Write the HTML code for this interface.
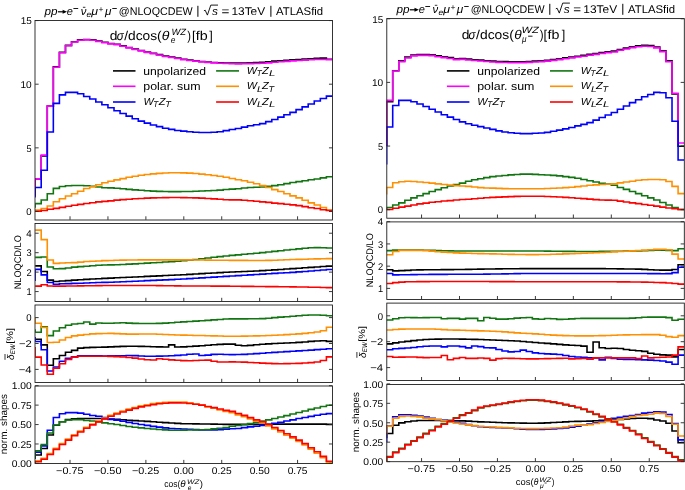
<!DOCTYPE html>
<html><head><meta charset="utf-8"><style>
html,body{margin:0;padding:0;background:#fff;width:685px;height:490px;overflow:hidden}
svg{display:block;font-family:"Liberation Sans", sans-serif;will-change:transform;text-rendering:geometricPrecision}
text{fill:#000}
</style></head><body>
<svg width="685" height="490" viewBox="0 0 685 490">
<rect width="685" height="490" fill="#fff"/>
<clipPath id="cLmain"><rect x="35.13" y="20.5" width="297.33" height="199.3"/></clipPath>
<clipPath id="cLratio"><rect x="35.13" y="223.5" width="297.33" height="77.8"/></clipPath>
<clipPath id="cLdew"><rect x="35.13" y="304.6" width="297.33" height="77.7"/></clipPath>
<clipPath id="cLnorm"><rect x="35.13" y="385.7" width="297.33" height="77.7"/></clipPath>
<g clip-path="url(#cLmain)" fill="none" stroke-width="1.6" stroke-linejoin="miter">
<path stroke="#000000" d="M35.13 196.22 L35.13 178.91 L41.2 178.91 L41.2 155.87 L47.27 155.87 L47.27 106.1 L53.34 106.1 L53.34 66.89 L59.41 66.89 L59.41 52.38 L65.47 52.38 L65.47 45.37 L71.54 45.37 L71.54 41.68 L77.61 41.68 L77.61 39.9 L83.68 39.9 L83.68 39.52 L89.75 39.52 L89.75 39.9 L95.81 39.9 L95.81 41.05 L101.88 41.05 L101.88 42.32 L107.95 42.32 L107.95 43.46 L114.02 43.46 L114.02 44.23 L120.09 44.23 L120.09 45.88 L126.15 45.88 L126.15 47.54 L132.22 47.54 L132.22 49.07 L138.29 49.07 L138.29 50.47 L144.36 50.47 L144.36 51.99 L150.43 51.99 L150.43 53.27 L156.49 53.27 L156.49 54.67 L162.56 54.67 L162.56 56.07 L168.63 56.07 L168.63 57.09 L174.7 57.09 L174.7 58.1 L180.77 58.1 L180.77 59.25 L186.83 59.25 L186.83 60.07 L192.9 60.07 L192.9 60.78 L198.97 60.78 L198.97 61.46 L205.04 61.46 L205.04 62.02 L211.11 62.02 L211.11 62.47 L217.17 62.47 L217.17 62.8 L223.24 62.8 L223.24 63.04 L229.31 63.04 L229.31 63.07 L235.38 63.07 L235.38 63.07 L241.45 63.07 L241.45 63 L247.51 63 L247.51 62.82 L253.58 62.82 L253.58 62.58 L259.65 62.58 L259.65 62.22 L265.72 62.22 L265.72 61.71 L271.79 61.71 L271.79 61.15 L277.85 61.15 L277.85 60.68 L283.92 60.68 L283.92 60.25 L289.99 60.25 L289.99 59.84 L296.06 59.84 L296.06 59.44 L302.13 59.44 L302.13 59.06 L308.19 59.06 L308.19 58.68 L314.26 58.68 L314.26 58.36 L320.33 58.36 L320.33 58.1 L326.4 58.1 L326.4 59.25 L332.47 59.25"/>
<path stroke="#ff00ff" d="M35.13 196.22 L35.13 178.91 L41.2 178.91 L41.2 155.11 L47.27 155.11 L47.27 106.1 L53.34 106.1 L53.34 67.27 L59.41 67.27 L59.41 52.76 L65.47 52.76 L65.47 45.76 L71.54 45.76 L71.54 42.06 L77.61 42.06 L77.61 40.28 L83.68 40.28 L83.68 39.9 L89.75 39.9 L89.75 40.28 L95.81 40.28 L95.81 41.43 L101.88 41.43 L101.88 42.7 L107.95 42.7 L107.95 43.85 L114.02 43.85 L114.02 44.61 L120.09 44.61 L120.09 46.26 L126.15 46.26 L126.15 47.92 L132.22 47.92 L132.22 49.45 L138.29 49.45 L138.29 50.85 L144.36 50.85 L144.36 52.38 L150.43 52.38 L150.43 53.65 L156.49 53.65 L156.49 55.05 L162.56 55.05 L162.56 56.45 L168.63 56.45 L168.63 57.47 L174.7 57.47 L174.7 58.49 L180.77 58.49 L180.77 59.63 L186.83 59.63 L186.83 60.46 L192.9 60.46 L192.9 61.16 L198.97 61.16 L198.97 61.84 L205.04 61.84 L205.04 62.4 L211.11 62.4 L211.11 62.84 L217.17 62.84 L217.17 63.19 L223.24 63.19 L223.24 63.48 L229.31 63.48 L229.31 63.69 L235.38 63.69 L235.38 63.83 L241.45 63.83 L241.45 63.75 L247.51 63.75 L247.51 63.58 L253.58 63.58 L253.58 63.5 L259.65 63.5 L259.65 63.32 L265.72 63.32 L265.72 62.86 L271.79 62.86 L271.79 62.3 L277.85 62.3 L277.85 61.82 L283.92 61.82 L283.92 61.33 L289.99 61.33 L289.99 60.86 L296.06 60.86 L296.06 60.44 L302.13 60.44 L302.13 60.1 L308.19 60.1 L308.19 59.77 L314.26 59.77 L314.26 59.54 L320.33 59.54 L320.33 59.51 L326.4 59.51 L326.4 59.63 L332.47 59.63"/>
<path stroke="#0000ff" d="M35.13 197.5 L35.13 187.44 L41.2 187.44 L41.2 170.25 L47.27 170.25 L47.27 131.94 L53.34 131.94 L53.34 103.42 L59.41 103.42 L59.41 94.89 L65.47 94.89 L65.47 92.35 L71.54 92.35 L71.54 92.35 L77.61 92.35 L77.61 93.75 L83.68 93.75 L83.68 96.55 L89.75 96.55 L89.75 98.97 L95.81 98.97 L95.81 102.02 L101.88 102.02 L101.88 104.7 L107.95 104.7 L107.95 107.75 L114.02 107.75 L114.02 110.68 L120.09 110.68 L120.09 113.48 L126.15 113.48 L126.15 116.15 L132.22 116.15 L132.22 118.7 L138.29 118.7 L138.29 121.12 L144.36 121.12 L144.36 123.15 L150.43 123.15 L150.43 124.94 L156.49 124.94 L156.49 126.59 L162.56 126.59 L162.56 128.25 L168.63 128.25 L168.63 129.39 L174.7 129.39 L174.7 130.54 L180.77 130.54 L180.77 131.17 L186.83 131.17 L186.83 131.81 L192.9 131.81 L192.9 132.32 L198.97 132.32 L198.97 132.57 L205.04 132.57 L205.04 132.56 L211.11 132.56 L211.11 132.25 L217.17 132.25 L217.17 131.68 L223.24 131.68 L223.24 130.62 L229.31 130.62 L229.31 129.57 L235.38 129.57 L235.38 128.51 L241.45 128.51 L241.45 127.16 L247.51 127.16 L247.51 125.73 L253.58 125.73 L253.58 124.75 L259.65 124.75 L259.65 123.66 L265.72 123.66 L265.72 121.63 L271.79 121.63 L271.79 119.46 L277.85 119.46 L277.85 117.17 L283.92 117.17 L283.92 114.75 L289.99 114.75 L289.99 112.33 L296.06 112.33 L296.06 109.66 L302.13 109.66 L302.13 106.86 L308.19 106.86 L308.19 103.93 L314.26 103.93 L314.26 101 L320.33 101 L320.33 98.46 L326.4 98.46 L326.4 96.17 L332.47 96.17"/>
<path stroke="#117511" d="M35.13 207.68 L35.13 203.61 L41.2 203.61 L41.2 200.04 L47.27 200.04 L47.27 193.68 L53.34 193.68 L53.34 188.33 L59.41 188.33 L59.41 186.55 L65.47 186.55 L65.47 185.79 L71.54 185.79 L71.54 185.53 L77.61 185.53 L77.61 185.53 L83.68 185.53 L83.68 185.79 L89.75 185.79 L89.75 186.42 L95.81 186.42 L95.81 186.93 L101.88 186.93 L101.88 187.69 L107.95 187.69 L107.95 187.87 L114.02 187.87 L114.02 188.27 L120.09 188.27 L120.09 188.77 L126.15 188.77 L126.15 189.36 L132.22 189.36 L132.22 189.85 L138.29 189.85 L138.29 190.26 L144.36 190.26 L144.36 190.71 L150.43 190.71 L150.43 191.12 L156.49 191.12 L156.49 191.37 L162.56 191.37 L162.56 191.53 L168.63 191.53 L168.63 191.62 L174.7 191.62 L174.7 191.64 L180.77 191.64 L180.77 191.56 L186.83 191.56 L186.83 191.43 L192.9 191.43 L192.9 191.26 L198.97 191.26 L198.97 191 L205.04 191 L205.04 190.7 L211.11 190.7 L211.11 190.44 L217.17 190.44 L217.17 190.09 L223.24 190.09 L223.24 189.56 L229.31 189.56 L229.31 189.11 L235.38 189.11 L235.38 188.7 L241.45 188.7 L241.45 188.07 L247.51 188.07 L247.51 187.45 L253.58 187.45 L253.58 187.18 L259.65 187.18 L259.65 186.93 L265.72 186.93 L265.72 186.42 L271.79 186.42 L271.79 185.66 L277.85 185.66 L277.85 184.77 L283.92 184.77 L283.92 183.62 L289.99 183.62 L289.99 182.48 L296.06 182.48 L296.06 181.58 L302.13 181.58 L302.13 180.69 L308.19 180.69 L308.19 179.8 L314.26 179.8 L314.26 179.04 L320.33 179.04 L320.33 177.89 L326.4 177.89 L326.4 176.75 L332.47 176.75"/>
<path stroke="#ff9000" d="M35.13 210.23 L35.13 210.1 L41.2 210.1 L41.2 208.57 L47.27 208.57 L47.27 206.03 L53.34 206.03 L53.34 201.7 L59.41 201.7 L59.41 198.77 L65.47 198.77 L65.47 195.97 L71.54 195.97 L71.54 193.68 L77.61 193.68 L77.61 191.26 L83.68 191.26 L83.68 188.46 L89.75 188.46 L89.75 186.68 L95.81 186.68 L95.81 184.77 L101.88 184.77 L101.88 182.73 L107.95 182.73 L107.95 181.2 L114.02 181.2 L114.02 179.87 L120.09 179.87 L120.09 178.58 L126.15 178.58 L126.15 177.27 L132.22 177.27 L132.22 176.19 L138.29 176.19 L138.29 175.3 L144.36 175.3 L144.36 174.51 L150.43 174.51 L150.43 173.85 L156.49 173.85 L156.49 173.37 L162.56 173.37 L162.56 173.02 L168.63 173.02 L168.63 172.75 L174.7 172.75 L174.7 172.69 L180.77 172.69 L180.77 172.88 L186.83 172.88 L186.83 173.16 L192.9 173.16 L192.9 173.56 L198.97 173.56 L198.97 174.08 L205.04 174.08 L205.04 174.72 L211.11 174.72 L211.11 175.46 L217.17 175.46 L217.17 176.32 L223.24 176.32 L223.24 177.31 L229.31 177.31 L229.31 178.44 L235.38 178.44 L235.38 179.68 L241.45 179.68 L241.45 180.82 L247.51 180.82 L247.51 182.22 L253.58 182.22 L253.58 183.75 L259.65 183.75 L259.65 185.66 L265.72 185.66 L265.72 187.44 L271.79 187.44 L271.79 189.6 L277.85 189.6 L277.85 191.51 L283.92 191.51 L283.92 193.68 L289.99 193.68 L289.99 195.84 L296.06 195.84 L296.06 197.88 L302.13 197.88 L302.13 200.3 L308.19 200.3 L308.19 202.84 L314.26 202.84 L314.26 205.01 L320.33 205.01 L320.33 207.55 L326.4 207.55 L326.4 210.1 L332.47 210.1"/>
<path stroke="#ff0000" d="M35.13 211.5 L35.13 211.25 L41.2 211.25 L41.2 210.48 L47.27 210.48 L47.27 209.21 L53.34 209.21 L53.34 208.39 L59.41 208.39 L59.41 207.36 L65.47 207.36 L65.47 206.31 L71.54 206.31 L71.54 205.29 L77.61 205.29 L77.61 204.36 L83.68 204.36 L83.68 203.51 L89.75 203.51 L89.75 202.68 L95.81 202.68 L95.81 201.89 L101.88 201.89 L101.88 201.34 L107.95 201.34 L107.95 200.83 L114.02 200.83 L114.02 200.17 L120.09 200.17 L120.09 199.62 L126.15 199.62 L126.15 199.2 L132.22 199.2 L132.22 198.82 L138.29 198.82 L138.29 198.47 L144.36 198.47 L144.36 198.15 L150.43 198.15 L150.43 197.89 L156.49 197.89 L156.49 197.73 L162.56 197.73 L162.56 197.61 L168.63 197.61 L168.63 197.52 L174.7 197.52 L174.7 197.51 L180.77 197.51 L180.77 197.6 L186.83 197.6 L186.83 197.72 L192.9 197.72 L192.9 197.88 L198.97 197.88 L198.97 198.13 L205.04 198.13 L205.04 198.46 L211.11 198.46 L211.11 198.89 L217.17 198.89 L217.17 199.31 L223.24 199.31 L223.24 199.7 L229.31 199.7 L229.31 199.84 L235.38 199.84 L235.38 199.92 L241.45 199.92 L241.45 200.3 L247.51 200.3 L247.51 200.81 L253.58 200.81 L253.58 201.32 L259.65 201.32 L259.65 201.83 L265.72 201.83 L265.72 202.33 L271.79 202.33 L271.79 203.1 L277.85 203.1 L277.85 203.61 L283.92 203.61 L283.92 204.24 L289.99 204.24 L289.99 204.88 L296.06 204.88 L296.06 205.64 L302.13 205.64 L302.13 206.66 L308.19 206.66 L308.19 207.68 L314.26 207.68 L314.26 208.57 L320.33 208.57 L320.33 209.72 L326.4 209.72 L326.4 210.48 L332.47 210.48"/>
</g>
<g clip-path="url(#cLratio)" fill="none" stroke-width="1.6" stroke-linejoin="miter">
<path stroke="#000000" d="M35.13 265.9 L41.2 265.9 L41.2 271.54 L47.27 271.54 L47.27 280.1 L53.34 280.1 L53.34 281.46 L59.41 281.46 L59.41 281.07 L65.47 281.07 L65.47 280.59 L71.54 280.59 L71.54 280.11 L77.61 280.11 L77.61 279.74 L83.68 279.74 L83.68 279.4 L89.75 279.4 L89.75 279.04 L95.81 279.04 L95.81 278.68 L101.88 278.68 L101.88 278.38 L107.95 278.38 L107.95 278.11 L114.02 278.11 L114.02 277.82 L120.09 277.82 L120.09 277.54 L126.15 277.54 L126.15 277.25 L132.22 277.25 L132.22 276.96 L138.29 276.96 L138.29 276.68 L144.36 276.68 L144.36 276.39 L150.43 276.39 L150.43 276.11 L156.49 276.11 L156.49 275.83 L162.56 275.83 L162.56 275.56 L168.63 275.56 L168.63 275.28 L174.7 275.28 L174.7 274.99 L180.77 274.99 L180.77 274.69 L186.83 274.69 L186.83 274.37 L192.9 274.37 L192.9 274.02 L198.97 274.02 L198.97 273.66 L205.04 273.66 L205.04 273.3 L211.11 273.3 L211.11 272.95 L217.17 272.95 L217.17 272.62 L223.24 272.62 L223.24 272.31 L229.31 272.31 L229.31 272.03 L235.38 272.03 L235.38 271.77 L241.45 271.77 L241.45 271.5 L247.51 271.5 L247.51 271.23 L253.58 271.23 L253.58 270.94 L259.65 270.94 L259.65 270.61 L265.72 270.61 L265.72 270.25 L271.79 270.25 L271.79 269.87 L277.85 269.87 L277.85 269.46 L283.92 269.46 L283.92 269.05 L289.99 269.05 L289.99 268.64 L296.06 268.64 L296.06 268.22 L302.13 268.22 L302.13 267.81 L308.19 267.81 L308.19 267.38 L314.26 267.38 L314.26 266.96 L320.33 266.96 L320.33 266.52 L326.4 266.52 L326.4 266.08 L332.47 266.08"/>
<path stroke="#0000ff" d="M35.13 280.88 L35.13 269.4 L41.2 269.4 L41.2 274.85 L47.27 274.85 L47.27 282.43 L53.34 282.43 L53.34 284.18 L59.41 284.18 L59.41 283.8 L65.47 283.8 L65.47 283.58 L71.54 283.58 L71.54 283.41 L77.61 283.41 L77.61 283.24 L83.68 283.24 L83.68 283.06 L89.75 283.06 L89.75 282.81 L95.81 282.81 L95.81 282.53 L101.88 282.53 L101.88 282.35 L107.95 282.35 L107.95 282.21 L114.02 282.21 L114.02 282.01 L120.09 282.01 L120.09 281.77 L126.15 281.77 L126.15 281.51 L132.22 281.51 L132.22 281.23 L138.29 281.23 L138.29 280.94 L144.36 280.94 L144.36 280.67 L150.43 280.67 L150.43 280.4 L156.49 280.4 L156.49 280.13 L162.56 280.13 L162.56 279.86 L168.63 279.86 L168.63 279.58 L174.7 279.58 L174.7 279.28 L180.77 279.28 L180.77 278.97 L186.83 278.97 L186.83 278.64 L192.9 278.64 L192.9 278.27 L198.97 278.27 L198.97 277.89 L205.04 277.89 L205.04 277.5 L211.11 277.5 L211.11 277.11 L217.17 277.11 L217.17 276.72 L223.24 276.72 L223.24 276.34 L229.31 276.34 L229.31 275.97 L235.38 275.97 L235.38 275.59 L241.45 275.59 L241.45 275.21 L247.51 275.21 L247.51 274.84 L253.58 274.84 L253.58 274.47 L259.65 274.47 L259.65 274.1 L265.72 274.1 L265.72 273.75 L271.79 273.75 L271.79 273.41 L277.85 273.41 L277.85 273.07 L283.92 273.07 L283.92 272.71 L289.99 272.71 L289.99 272.33 L296.06 272.33 L296.06 271.91 L302.13 271.91 L302.13 271.47 L308.19 271.47 L308.19 270.99 L314.26 270.99 L314.26 270.5 L320.33 270.5 L320.33 269.97 L326.4 269.97 L326.4 269.43 L332.47 269.43"/>
<path stroke="#117511" d="M35.13 257.34 L41.2 257.34 L41.2 256.95 L47.27 256.95 L47.27 267.07 L53.34 267.07 L53.34 268.82 L59.41 268.82 L59.41 268.62 L65.47 268.62 L65.47 267.93 L71.54 267.93 L71.54 267.08 L77.61 267.08 L77.61 266.6 L83.68 266.6 L83.68 266.19 L89.75 266.19 L89.75 265.71 L95.81 265.71 L95.81 265.24 L101.88 265.24 L101.88 265.04 L107.95 265.04 L107.95 264.9 L114.02 264.9 L114.02 264.69 L120.09 264.69 L120.09 264.43 L126.15 264.43 L126.15 264.14 L132.22 264.14 L132.22 263.83 L138.29 263.83 L138.29 263.5 L144.36 263.5 L144.36 263.16 L150.43 263.16 L150.43 262.82 L156.49 262.82 L156.49 262.45 L162.56 262.45 L162.56 262.07 L168.63 262.07 L168.63 261.65 L174.7 261.65 L174.7 261.2 L180.77 261.2 L180.77 260.71 L186.83 260.71 L186.83 260.15 L192.9 260.15 L192.9 259.49 L198.97 259.49 L198.97 258.76 L205.04 258.76 L205.04 258.01 L211.11 258.01 L211.11 257.27 L217.17 257.27 L217.17 256.58 L223.24 256.58 L223.24 255.96 L229.31 255.96 L229.31 255.39 L235.38 255.39 L235.38 254.83 L241.45 254.83 L241.45 254.29 L247.51 254.29 L247.51 253.75 L253.58 253.75 L253.58 253.19 L259.65 253.19 L259.65 252.6 L265.72 252.6 L265.72 251.98 L271.79 251.98 L271.79 251.34 L277.85 251.34 L277.85 250.69 L283.92 250.69 L283.92 250.06 L289.99 250.06 L289.99 249.46 L296.06 249.46 L296.06 248.86 L302.13 248.86 L302.13 248.19 L308.19 248.19 L308.19 247.69 L314.26 247.69 L314.26 247.62 L320.33 247.62 L320.33 247.72 L326.4 247.72 L326.4 248.01 L332.47 248.01"/>
<path stroke="#ff9000" d="M35.13 230.11 L41.2 230.11 L41.2 239.64 L47.27 239.64 L47.27 260.07 L53.34 260.07 L53.34 263.37 L59.41 263.37 L59.41 262.98 L65.47 262.98 L65.47 262.79 L71.54 262.79 L71.54 262.6 L77.61 262.6 L77.61 262.11 L83.68 262.11 L83.68 261.52 L89.75 261.52 L89.75 261.19 L95.81 261.19 L95.81 260.95 L101.88 260.95 L101.88 260.67 L107.95 260.67 L107.95 260.43 L114.02 260.43 L114.02 260.28 L120.09 260.28 L120.09 260.14 L126.15 260.14 L126.15 260.03 L132.22 260.03 L132.22 259.94 L138.29 259.94 L138.29 259.89 L144.36 259.89 L144.36 259.87 L150.43 259.87 L150.43 259.87 L156.49 259.87 L156.49 259.87 L162.56 259.87 L162.56 259.87 L168.63 259.87 L168.63 259.87 L174.7 259.87 L174.7 259.87 L180.77 259.87 L180.77 259.87 L186.83 259.87 L186.83 259.89 L192.9 259.89 L192.9 259.94 L198.97 259.94 L198.97 260.02 L205.04 260.02 L205.04 260.1 L211.11 260.1 L211.11 260.18 L217.17 260.18 L217.17 260.25 L223.24 260.25 L223.24 260.29 L229.31 260.29 L229.31 260.33 L235.38 260.33 L235.38 260.37 L241.45 260.37 L241.45 260.41 L247.51 260.41 L247.51 260.44 L253.58 260.44 L253.58 260.45 L259.65 260.45 L259.65 260.44 L265.72 260.44 L265.72 260.35 L271.79 260.35 L271.79 260.19 L277.85 260.19 L277.85 259.99 L283.92 259.99 L283.92 259.77 L289.99 259.77 L289.99 259.57 L296.06 259.57 L296.06 259.4 L302.13 259.4 L302.13 259.24 L308.19 259.24 L308.19 259.07 L314.26 259.07 L314.26 258.91 L320.33 258.91 L320.33 258.74 L326.4 258.74 L326.4 258.58 L332.47 258.58"/>
<path stroke="#ff0000" d="M35.13 286.13 L41.2 286.13 L41.2 284.77 L47.27 284.77 L47.27 285.93 L53.34 285.93 L53.34 286.13 L59.41 286.13 L59.41 286.09 L65.47 286.09 L65.47 286.02 L71.54 286.02 L71.54 285.94 L77.61 285.94 L77.61 285.86 L83.68 285.86 L83.68 285.77 L89.75 285.77 L89.75 285.69 L95.81 285.69 L95.81 285.61 L101.88 285.61 L101.88 285.56 L107.95 285.56 L107.95 285.55 L114.02 285.55 L114.02 285.55 L120.09 285.55 L120.09 285.55 L126.15 285.55 L126.15 285.55 L132.22 285.55 L132.22 285.55 L138.29 285.55 L138.29 285.55 L144.36 285.55 L144.36 285.55 L150.43 285.55 L150.43 285.57 L156.49 285.57 L156.49 285.63 L162.56 285.63 L162.56 285.7 L168.63 285.7 L168.63 285.79 L174.7 285.79 L174.7 285.87 L180.77 285.87 L180.77 285.93 L186.83 285.93 L186.83 285.97 L192.9 285.97 L192.9 286 L198.97 286 L198.97 286.03 L205.04 286.03 L205.04 286.05 L211.11 286.05 L211.11 286.08 L217.17 286.08 L217.17 286.12 L223.24 286.12 L223.24 286.16 L229.31 286.16 L229.31 286.21 L235.38 286.21 L235.38 286.28 L241.45 286.28 L241.45 286.34 L247.51 286.34 L247.51 286.41 L253.58 286.41 L253.58 286.48 L259.65 286.48 L259.65 286.55 L265.72 286.55 L265.72 286.61 L271.79 286.61 L271.79 286.66 L277.85 286.66 L277.85 286.72 L283.92 286.72 L283.92 286.79 L289.99 286.79 L289.99 286.86 L296.06 286.86 L296.06 286.95 L302.13 286.95 L302.13 287.06 L308.19 287.06 L308.19 287.18 L314.26 287.18 L314.26 287.31 L320.33 287.31 L320.33 287.46 L326.4 287.46 L326.4 287.62 L332.47 287.62"/>
</g>
<g clip-path="url(#cLdew)" fill="none" stroke-width="1.6" stroke-linejoin="miter">
<path stroke="#000000" d="M35.13 339.23 L41.2 339.23 L41.2 344.92 L47.27 344.92 L47.27 365.26 L53.34 365.26 L53.34 358.78 L59.41 358.78 L59.41 355.54 L65.47 355.54 L65.47 352.18 L71.54 352.18 L71.54 350.36 L77.61 350.36 L77.61 348.16 L83.68 348.16 L83.68 347.64 L89.75 347.64 L89.75 347.41 L95.81 347.41 L95.81 347.24 L101.88 347.24 L101.88 347.1 L107.95 347.1 L107.95 346.91 L114.02 346.91 L114.02 346.67 L120.09 346.67 L120.09 346.42 L126.15 346.42 L126.15 346.25 L132.22 346.25 L132.22 346.23 L138.29 346.23 L138.29 346.34 L144.36 346.34 L144.36 346.54 L150.43 346.54 L150.43 346.75 L156.49 346.75 L156.49 346.92 L162.56 346.92 L162.56 347 L168.63 347 L168.63 344.92 L174.7 344.92 L174.7 346.99 L180.77 346.99 L180.77 346.83 L186.83 346.83 L186.83 346.49 L192.9 346.49 L192.9 346.1 L198.97 346.1 L198.97 345.74 L205.04 345.74 L205.04 345.29 L211.11 345.29 L211.11 344.81 L217.17 344.81 L217.17 344.39 L223.24 344.39 L223.24 344.1 L229.31 344.1 L229.31 344.08 L235.38 344.08 L235.38 345.18 L241.45 345.18 L241.45 345.68 L247.51 345.68 L247.51 345.36 L253.58 345.36 L253.58 344.8 L259.65 344.8 L259.65 344.23 L265.72 344.23 L265.72 343.85 L271.79 343.85 L271.79 343.55 L277.85 343.55 L277.85 343.28 L283.92 343.28 L283.92 343.02 L289.99 343.02 L289.99 342.74 L296.06 342.74 L296.06 342.42 L302.13 342.42 L302.13 341.94 L308.19 341.94 L308.19 341.39 L314.26 341.39 L314.26 340.95 L320.33 340.95 L320.33 340.78 L326.4 340.78 L326.4 341.35 L332.47 341.35"/>
<path stroke="#0000ff" d="M35.13 337.03 L35.13 341.56 L41.2 341.56 L41.2 349.72 L47.27 349.72 L47.27 370.95 L53.34 370.95 L53.34 366.94 L59.41 366.94 L59.41 361.24 L65.47 361.24 L65.47 358.39 L71.54 358.39 L71.54 356.84 L77.61 356.84 L77.61 355.8 L83.68 355.8 L83.68 355.82 L89.75 355.82 L89.75 355.85 L95.81 355.85 L95.81 355.9 L101.88 355.9 L101.88 355.93 L107.95 355.93 L107.95 355.92 L114.02 355.92 L114.02 355.82 L120.09 355.82 L120.09 355.68 L126.15 355.68 L126.15 355.57 L132.22 355.57 L132.22 355.58 L138.29 355.58 L138.29 355.94 L144.36 355.94 L144.36 356.29 L150.43 356.29 L150.43 356.3 L156.49 356.3 L156.49 356.17 L162.56 356.17 L162.56 355.97 L168.63 355.97 L168.63 355.7 L174.7 355.7 L174.7 355.39 L180.77 355.39 L180.77 355.01 L186.83 355.01 L186.83 354.24 L192.9 354.24 L192.9 353.95 L198.97 353.95 L198.97 355.54 L205.04 355.54 L205.04 355.09 L211.11 355.09 L211.11 354.42 L217.17 354.42 L217.17 354.28 L223.24 354.28 L223.24 354.5 L229.31 354.5 L229.31 354.64 L235.38 354.64 L235.38 354.56 L241.45 354.56 L241.45 354.35 L247.51 354.35 L247.51 354.05 L253.58 354.05 L253.58 353.67 L259.65 353.67 L259.65 353.25 L265.72 353.25 L265.72 352.81 L271.79 352.81 L271.79 352.38 L277.85 352.38 L277.85 351.98 L283.92 351.98 L283.92 351.62 L289.99 351.62 L289.99 351.25 L296.06 351.25 L296.06 350.87 L302.13 350.87 L302.13 350.48 L308.19 350.48 L308.19 350.08 L314.26 350.08 L314.26 349.67 L320.33 349.67 L320.33 349.24 L326.4 349.24 L326.4 348.79 L332.47 348.79"/>
<path stroke="#117511" d="M35.13 329.25 L35.13 332.23 L41.2 332.23 L41.2 326.92 L47.27 326.92 L47.27 335.6 L53.34 335.6 L53.34 330.94 L59.41 330.94 L59.41 327.7 L65.47 327.7 L65.47 325.24 L71.54 325.24 L71.54 323.95 L77.61 323.95 L77.61 323.56 L83.68 323.56 L83.68 322 L89.75 322 L89.75 324.08 L95.81 324.08 L95.81 323.04 L101.88 323.04 L101.88 323.22 L107.95 323.22 L107.95 323.25 L114.02 323.25 L114.02 322.93 L120.09 322.93 L120.09 322.8 L126.15 322.8 L126.15 323.13 L132.22 323.13 L132.22 323.35 L138.29 323.35 L138.29 323.46 L144.36 323.46 L144.36 323.53 L150.43 323.53 L150.43 323.55 L156.49 323.55 L156.49 323.41 L162.56 323.41 L162.56 323.1 L168.63 323.1 L168.63 322.69 L174.7 322.69 L174.7 322.27 L180.77 322.27 L180.77 321.9 L186.83 321.9 L186.83 321.52 L192.9 321.52 L192.9 321.13 L198.97 321.13 L198.97 320.74 L205.04 320.74 L205.04 320.35 L211.11 320.35 L211.11 319.9 L217.17 319.9 L217.17 319.44 L223.24 319.44 L223.24 319.07 L229.31 319.07 L229.31 318.89 L235.38 318.89 L235.38 318.85 L241.45 318.85 L241.45 318.83 L247.51 318.83 L247.51 318.81 L253.58 318.81 L253.58 318.77 L259.65 318.77 L259.65 318.6 L265.72 318.6 L265.72 318.18 L271.79 318.18 L271.79 317.65 L277.85 317.65 L277.85 317.16 L283.92 317.16 L283.92 316.71 L289.99 316.71 L289.99 316.21 L296.06 316.21 L296.06 315.72 L302.13 315.72 L302.13 315.31 L308.19 315.31 L308.19 315.05 L314.26 315.05 L314.26 315.04 L320.33 315.04 L320.33 315.3 L326.4 315.3 L326.4 315.78 L332.47 315.78"/>
<path stroke="#ff9000" d="M35.13 317.6 L35.13 323.3 L41.2 323.3 L41.2 327.44 L47.27 327.44 L47.27 342.46 L53.34 342.46 L53.34 342.21 L59.41 342.21 L59.41 340 L65.47 340 L65.47 337.54 L71.54 337.54 L71.54 335.86 L77.61 335.86 L77.61 335.08 L83.68 335.08 L83.68 334.56 L89.75 334.56 L89.75 333.92 L95.81 333.92 L95.81 333.62 L101.88 333.62 L101.88 333.43 L107.95 333.43 L107.95 333.42 L114.02 333.42 L114.02 333.62 L120.09 333.62 L120.09 333.9 L126.15 333.9 L126.15 334.13 L132.22 334.13 L132.22 334.14 L138.29 334.14 L138.29 333.93 L144.36 333.93 L144.36 333.95 L150.43 333.95 L150.43 334.07 L156.49 334.07 L156.49 334.26 L162.56 334.26 L162.56 334.5 L168.63 334.5 L168.63 334.74 L174.7 334.74 L174.7 334.96 L180.77 334.96 L180.77 335.13 L186.83 335.13 L186.83 335.28 L192.9 335.28 L192.9 335.43 L198.97 335.43 L198.97 335.57 L205.04 335.57 L205.04 335.71 L211.11 335.71 L211.11 335.85 L217.17 335.85 L217.17 336.01 L223.24 336.01 L223.24 336.18 L229.31 336.18 L229.31 336.25 L235.38 336.25 L235.38 336.21 L241.45 336.21 L241.45 336.13 L247.51 336.13 L247.51 336 L253.58 336 L253.58 335.85 L259.65 335.85 L259.65 335.69 L265.72 335.69 L265.72 335.51 L271.79 335.51 L271.79 335.26 L277.85 335.26 L277.85 334.97 L283.92 334.97 L283.92 334.63 L289.99 334.63 L289.99 334.26 L296.06 334.26 L296.06 333.85 L302.13 333.85 L302.13 333.37 L308.19 333.37 L308.19 332.77 L314.26 332.77 L314.26 332.01 L320.33 332.01 L320.33 330.68 L326.4 330.68 L326.4 327.18 L332.47 327.18"/>
<path stroke="#ff0000" d="M35.13 347 L35.13 357.1 L41.2 357.1 L41.2 365 L47.27 365 L47.27 374.32 L53.34 374.32 L53.34 368.23 L59.41 368.23 L59.41 363.7 L65.47 363.7 L65.47 359.56 L71.54 359.56 L71.54 357.1 L77.61 357.1 L77.61 356.32 L83.68 356.32 L83.68 356.32 L89.75 356.32 L89.75 356.32 L95.81 356.32 L95.81 356.32 L101.88 356.32 L101.88 356.32 L107.95 356.32 L107.95 356.35 L114.02 356.35 L114.02 356.6 L120.09 356.6 L120.09 357.03 L126.15 357.03 L126.15 357.55 L132.22 357.55 L132.22 358.1 L138.29 358.1 L138.29 358.96 L144.36 358.96 L144.36 359.78 L150.43 359.78 L150.43 360.01 L156.49 360.01 L156.49 358.78 L162.56 358.78 L162.56 359.23 L168.63 359.23 L168.63 359.92 L174.7 359.92 L174.7 360.3 L180.77 360.3 L180.77 360.59 L186.83 360.59 L186.83 360.72 L192.9 360.72 L192.9 360.54 L198.97 360.54 L198.97 360.2 L205.04 360.2 L205.04 360.15 L211.11 360.15 L211.11 361.28 L217.17 361.28 L217.17 362.02 L223.24 362.02 L223.24 361.95 L229.31 361.95 L229.31 361.89 L235.38 361.89 L235.38 361.97 L241.45 361.97 L241.45 362.17 L247.51 362.17 L247.51 362.45 L253.58 362.45 L253.58 362.77 L259.65 362.77 L259.65 363.1 L265.72 363.1 L265.72 363.39 L271.79 363.39 L271.79 363.6 L277.85 363.6 L277.85 363.7 L283.92 363.7 L283.92 363.67 L289.99 363.67 L289.99 363.55 L296.06 363.55 L296.06 363.34 L302.13 363.34 L302.13 363.05 L308.19 363.05 L308.19 362.66 L314.26 362.66 L314.26 362.07 L320.33 362.07 L320.33 360.46 L326.4 360.46 L326.4 356.84 L332.47 356.84"/>
</g>
<g clip-path="url(#cLnorm)" fill="none" stroke-width="1.6" stroke-linejoin="miter">
<path stroke="#000000" d="M35.13 458.74 L35.13 454.93 L41.2 454.93 L41.2 448.48 L47.27 448.48 L47.27 434.96 L53.34 434.96 L53.34 425.25 L59.41 425.25 L59.41 421.68 L65.47 421.68 L65.47 419.65 L71.54 419.65 L71.54 418.88 L77.61 418.88 L77.61 418.64 L83.68 418.64 L83.68 418.57 L89.75 418.57 L89.75 418.57 L95.81 418.57 L95.81 418.57 L101.88 418.57 L101.88 418.64 L107.95 418.64 L107.95 418.93 L114.02 418.93 L114.02 419.32 L120.09 419.32 L120.09 419.78 L126.15 419.78 L126.15 420.24 L132.22 420.24 L132.22 420.65 L138.29 420.65 L138.29 421.04 L144.36 421.04 L144.36 421.41 L150.43 421.41 L150.43 421.8 L156.49 421.8 L156.49 422.22 L162.56 422.22 L162.56 422.66 L168.63 422.66 L168.63 423.07 L174.7 423.07 L174.7 423.41 L180.77 423.41 L180.77 423.68 L186.83 423.68 L186.83 423.8 L192.9 423.8 L192.9 423.87 L198.97 423.87 L198.97 423.94 L205.04 423.94 L205.04 424.03 L211.11 424.03 L211.11 424.16 L217.17 424.16 L217.17 424.29 L223.24 424.29 L223.24 424.38 L229.31 424.38 L229.31 424.39 L235.38 424.39 L235.38 424.39 L241.45 424.39 L241.45 424.39 L247.51 424.39 L247.51 424.39 L253.58 424.39 L253.58 424.36 L259.65 424.36 L259.65 424.29 L265.72 424.29 L265.72 424.21 L271.79 424.21 L271.79 424.16 L277.85 424.16 L277.85 424.14 L283.92 424.14 L283.92 424.12 L289.99 424.12 L289.99 424.1 L296.06 424.1 L296.06 424.09 L302.13 424.09 L302.13 424.08 L308.19 424.08 L308.19 424.08 L314.26 424.08 L314.26 424.08 L320.33 424.08 L320.33 424.08 L326.4 424.08 L326.4 424.39 L332.47 424.39"/>
<path stroke="#0000ff" d="M35.13 458.74 L35.13 452.13 L41.2 452.13 L41.2 445.92 L47.27 445.92 L47.27 430.22 L53.34 430.22 L53.34 417.56 L59.41 417.56 L59.41 413.75 L65.47 413.75 L65.47 412.66 L71.54 412.66 L71.54 412.66 L77.61 412.66 L77.61 413.13 L83.68 413.13 L83.68 414.29 L89.75 414.29 L89.75 415.54 L95.81 415.54 L95.81 416.31 L101.88 416.31 L101.88 417.56 L107.95 417.56 L107.95 419.42 L114.02 419.42 L114.02 420.12 L120.09 420.12 L120.09 421.29 L126.15 421.29 L126.15 422.37 L132.22 422.37 L132.22 423.46 L138.29 423.46 L138.29 424.55 L144.36 424.55 L144.36 425.4 L150.43 425.4 L150.43 426.41 L156.49 426.41 L156.49 427.11 L162.56 427.11 L162.56 427.89 L168.63 427.89 L168.63 428.43 L174.7 428.43 L174.7 428.75 L180.77 428.75 L180.77 428.98 L186.83 428.98 L186.83 429.29 L192.9 429.29 L192.9 429.63 L198.97 429.63 L198.97 429.91 L205.04 429.91 L205.04 429.99 L211.11 429.99 L211.11 429.91 L217.17 429.91 L217.17 429.72 L223.24 429.72 L223.24 429.17 L229.31 429.17 L229.31 428.82 L235.38 428.82 L235.38 428.43 L241.45 428.43 L241.45 427.58 L247.51 427.58 L247.51 426.88 L253.58 426.88 L253.58 426.18 L259.65 426.18 L259.65 425.4 L265.72 425.4 L265.72 424.55 L271.79 424.55 L271.79 423.31 L277.85 423.31 L277.85 422.22 L283.92 422.22 L283.92 420.98 L289.99 420.98 L289.99 419.89 L296.06 419.89 L296.06 418.57 L302.13 418.57 L302.13 417.56 L308.19 417.56 L308.19 416.39 L314.26 416.39 L314.26 415.23 L320.33 415.23 L320.33 414.29 L326.4 414.29 L326.4 413.59 L332.47 413.59"/>
<path stroke="#117511" d="M35.13 458.74 L35.13 450.89 L41.2 450.89 L41.2 444.67 L47.27 444.67 L47.27 433.02 L53.34 433.02 L53.34 425.02 L59.41 425.02 L59.41 421.68 L65.47 421.68 L65.47 420.04 L71.54 420.04 L71.54 419.58 L77.61 419.58 L77.61 419.58 L83.68 419.58 L83.68 420.43 L89.75 420.43 L89.75 421.05 L95.81 421.05 L95.81 421.6 L101.88 421.6 L101.88 422.92 L107.95 422.92 L107.95 423.7 L114.02 423.7 L114.02 424.55 L120.09 424.55 L120.09 425.5 L126.15 425.5 L126.15 426.44 L132.22 426.44 L132.22 427.2 L138.29 427.2 L138.29 427.86 L144.36 427.86 L144.36 428.44 L150.43 428.44 L150.43 428.94 L156.49 428.94 L156.49 429.43 L162.56 429.43 L162.56 429.9 L168.63 429.9 L168.63 430.22 L174.7 430.22 L174.7 430.29 L180.77 430.29 L180.77 430.17 L186.83 430.17 L186.83 430.05 L192.9 430.05 L192.9 429.91 L198.97 429.91 L198.97 429.72 L205.04 429.72 L205.04 429.45 L211.11 429.45 L211.11 428.86 L217.17 428.86 L217.17 428.22 L223.24 428.22 L223.24 427.64 L229.31 427.64 L229.31 426.26 L235.38 426.26 L235.38 425.48 L241.45 425.48 L241.45 424.78 L247.51 424.78 L247.51 423.62 L253.58 423.62 L253.58 422.53 L259.65 422.53 L259.65 421.13 L265.72 421.13 L265.72 419.89 L271.79 419.89 L271.79 418.49 L277.85 418.49 L277.85 417.01 L283.92 417.01 L283.92 415.61 L289.99 415.61 L289.99 414.06 L296.06 414.06 L296.06 412.51 L302.13 412.51 L302.13 410.95 L308.19 410.95 L308.19 409.4 L314.26 409.4 L314.26 408 L320.33 408 L320.33 406.52 L326.4 406.52 L326.4 405.28 L332.47 405.28"/>
<path stroke="#ff9000" d="M35.13 463.4 L35.13 460.84 L41.2 460.84 L41.2 458.27 L47.27 458.27 L47.27 453.53 L53.34 453.53 L53.34 448.4 L59.41 448.4 L59.41 443.59 L65.47 443.59 L65.47 439.16 L71.54 439.16 L71.54 434.81 L77.61 434.81 L77.61 431.08 L83.68 431.08 L83.68 427.27 L89.75 427.27 L89.75 423.93 L95.81 423.93 L95.81 420.98 L101.88 420.98 L101.88 417.95 L107.95 417.95 L107.95 415.38 L114.02 415.38 L114.02 413.05 L120.09 413.05 L120.09 411.03 L126.15 411.03 L126.15 409.17 L132.22 409.17 L132.22 407.46 L138.29 407.46 L138.29 405.9 L144.36 405.9 L144.36 404.81 L150.43 404.81 L150.43 403.65 L156.49 403.65 L156.49 402.87 L162.56 402.87 L162.56 402.25 L168.63 402.25 L168.63 401.94 L174.7 401.94 L174.7 401.94 L180.77 401.94 L180.77 402.09 L186.83 402.09 L186.83 402.87 L192.9 402.87 L192.9 403.96 L198.97 403.96 L198.97 405.12 L205.04 405.12 L205.04 406.83 L211.11 406.83 L211.11 408.23 L217.17 408.23 L217.17 409.94 L223.24 409.94 L223.24 411.57 L229.31 411.57 L229.31 412.74 L235.38 412.74 L235.38 414.92 L241.45 414.92 L241.45 416.78 L247.51 416.78 L247.51 419.03 L253.58 419.03 L253.58 421.29 L259.65 421.29 L259.65 423.07 L265.72 423.07 L265.72 425.87 L271.79 425.87 L271.79 428.9 L277.85 428.9 L277.85 431.93 L283.92 431.93 L283.92 435.19 L289.99 435.19 L289.99 438.23 L296.06 438.23 L296.06 441.49 L302.13 441.49 L302.13 444.99 L308.19 444.99 L308.19 449.1 L314.26 449.1 L314.26 453.22 L320.33 453.22 L320.33 457.81 L326.4 457.81 L326.4 462.62 L332.47 462.62"/>
<path stroke="#ff0000" d="M35.13 463.4 L35.13 461.77 L41.2 461.77 L41.2 459.2 L47.27 459.2 L47.27 454.46 L53.34 454.46 L53.34 449.34 L59.41 449.34 L59.41 444.52 L65.47 444.52 L65.47 440.09 L71.54 440.09 L71.54 435.74 L77.61 435.74 L77.61 432.01 L83.68 432.01 L83.68 428.2 L89.75 428.2 L89.75 424.86 L95.81 424.86 L95.81 421.91 L101.88 421.91 L101.88 418.88 L107.95 418.88 L107.95 416.31 L114.02 416.31 L114.02 413.98 L120.09 413.98 L120.09 411.96 L126.15 411.96 L126.15 410.1 L132.22 410.1 L132.22 408.39 L138.29 408.39 L138.29 406.83 L144.36 406.83 L144.36 405.75 L150.43 405.75 L150.43 404.58 L156.49 404.58 L156.49 403.8 L162.56 403.8 L162.56 403.18 L168.63 403.18 L168.63 402.87 L174.7 402.87 L174.7 402.87 L180.77 402.87 L180.77 403.03 L186.83 403.03 L186.83 403.49 L192.9 403.49 L192.9 404.27 L198.97 404.27 L198.97 405.12 L205.04 405.12 L205.04 406.52 L211.11 406.52 L211.11 407.61 L217.17 407.61 L217.17 409.01 L223.24 409.01 L223.24 410.33 L229.31 410.33 L229.31 411.34 L235.38 411.34 L235.38 413.52 L241.45 413.52 L241.45 415.38 L247.51 415.38 L247.51 417.63 L253.58 417.63 L253.58 419.89 L259.65 419.89 L259.65 421.68 L265.72 421.68 L265.72 424.47 L271.79 424.47 L271.79 427.5 L277.85 427.5 L277.85 430.53 L283.92 430.53 L283.92 433.8 L289.99 433.8 L289.99 436.83 L296.06 436.83 L296.06 440.09 L302.13 440.09 L302.13 443.59 L308.19 443.59 L308.19 447.7 L314.26 447.7 L314.26 451.82 L320.33 451.82 L320.33 456.41 L326.4 456.41 L326.4 461.22 L332.47 461.22"/>
</g>
<g><rect x="35" y="20.5" width="297.5" height="199.5" fill="none" stroke="#111" stroke-width="0.85"/><path d="M70.03 219.8 V216.3" stroke="#262626" stroke-width="0.9"/><path d="M107.95 219.8 V216.3" stroke="#262626" stroke-width="0.9"/><path d="M145.88 219.8 V216.3" stroke="#262626" stroke-width="0.9"/><path d="M183.8 219.8 V216.3" stroke="#262626" stroke-width="0.9"/><path d="M221.73 219.8 V216.3" stroke="#262626" stroke-width="0.9"/><path d="M259.65 219.8 V216.3" stroke="#262626" stroke-width="0.9"/><path d="M297.57 219.8 V216.3" stroke="#262626" stroke-width="0.9"/><rect x="35" y="223.5" width="297.5" height="78" fill="none" stroke="#111" stroke-width="0.85"/><path d="M70.03 301.3 V297.8" stroke="#262626" stroke-width="0.9"/><path d="M107.95 301.3 V297.8" stroke="#262626" stroke-width="0.9"/><path d="M145.88 301.3 V297.8" stroke="#262626" stroke-width="0.9"/><path d="M183.8 301.3 V297.8" stroke="#262626" stroke-width="0.9"/><path d="M221.73 301.3 V297.8" stroke="#262626" stroke-width="0.9"/><path d="M259.65 301.3 V297.8" stroke="#262626" stroke-width="0.9"/><path d="M297.57 301.3 V297.8" stroke="#262626" stroke-width="0.9"/><rect x="35" y="305" width="297.5" height="77.5" fill="none" stroke="#111" stroke-width="0.85"/><path d="M70.03 382.3 V378.8" stroke="#262626" stroke-width="0.9"/><path d="M107.95 382.3 V378.8" stroke="#262626" stroke-width="0.9"/><path d="M145.88 382.3 V378.8" stroke="#262626" stroke-width="0.9"/><path d="M183.8 382.3 V378.8" stroke="#262626" stroke-width="0.9"/><path d="M221.73 382.3 V378.8" stroke="#262626" stroke-width="0.9"/><path d="M259.65 382.3 V378.8" stroke="#262626" stroke-width="0.9"/><path d="M297.57 382.3 V378.8" stroke="#262626" stroke-width="0.9"/><rect x="35" y="386" width="297.5" height="77.5" fill="none" stroke="#111" stroke-width="0.85"/><path d="M70.03 463.4 V459.9" stroke="#262626" stroke-width="0.9"/><path d="M107.95 463.4 V459.9" stroke="#262626" stroke-width="0.9"/><path d="M145.88 463.4 V459.9" stroke="#262626" stroke-width="0.9"/><path d="M183.8 463.4 V459.9" stroke="#262626" stroke-width="0.9"/><path d="M221.73 463.4 V459.9" stroke="#262626" stroke-width="0.9"/><path d="M259.65 463.4 V459.9" stroke="#262626" stroke-width="0.9"/><path d="M297.57 463.4 V459.9" stroke="#262626" stroke-width="0.9"/></g>
<path d="M35.13 211.5 H38.63 M332.47 211.5 H328.97" stroke="#262626" stroke-width="0.9"/>
<text x="26.35" y="215.25" font-size="9.8" textLength="5.33" lengthAdjust="spacingAndGlyphs">0</text>
<path d="M35.13 147.85 H38.63 M332.47 147.85 H328.97" stroke="#262626" stroke-width="0.9"/>
<text x="26.6" y="151.6" font-size="9.8" textLength="5.12" lengthAdjust="spacingAndGlyphs">5</text>
<path d="M35.13 84.2 H38.63 M332.47 84.2 H328.97" stroke="#262626" stroke-width="0.9"/>
<text x="20.46" y="87.95" font-size="9.8" textLength="11.26" lengthAdjust="spacingAndGlyphs">10</text>
<path d="M35.13 20.55 H38.63 M332.47 20.55 H328.97" stroke="#262626" stroke-width="0.9"/>
<text x="20.65" y="24.3" font-size="9.8" textLength="11.11" lengthAdjust="spacingAndGlyphs">15</text>
<path d="M35.13 291.57 H38.63 M332.47 291.57 H328.97" stroke="#262626" stroke-width="0.9"/>
<text x="26.59" y="295.32" font-size="9.8" textLength="5.18" lengthAdjust="spacingAndGlyphs">1</text>
<path d="M35.13 272.12 H38.63 M332.47 272.12 H328.97" stroke="#262626" stroke-width="0.9"/>
<text x="26.54" y="275.88" font-size="9.8" textLength="5.23" lengthAdjust="spacingAndGlyphs">2</text>
<path d="M35.13 252.68 H38.63 M332.47 252.68 H328.97" stroke="#262626" stroke-width="0.9"/>
<text x="26.55" y="256.43" font-size="9.8" textLength="5.17" lengthAdjust="spacingAndGlyphs">3</text>
<path d="M35.13 233.22 H38.63 M332.47 233.22 H328.97" stroke="#262626" stroke-width="0.9"/>
<text x="26.17" y="236.97" font-size="9.8" textLength="5.42" lengthAdjust="spacingAndGlyphs">4</text>
<path d="M35.13 317.6 H38.63 M332.47 317.6 H328.97" stroke="#262626" stroke-width="0.9"/>
<text x="26.35" y="321.35" font-size="9.8" textLength="5.33" lengthAdjust="spacingAndGlyphs">0</text>
<path d="M35.13 343.5 H38.63 M332.47 343.5 H328.97" stroke="#262626" stroke-width="0.9"/>
<text x="19.1" y="347.25" font-size="9.8" textLength="12.74" lengthAdjust="spacingAndGlyphs">−2</text>
<path d="M35.13 369.4 H38.63 M332.47 369.4 H328.97" stroke="#262626" stroke-width="0.9"/>
<text x="18.68" y="373.15" font-size="9.8" textLength="12.94" lengthAdjust="spacingAndGlyphs">−4</text>
<path d="M35.13 463.4 H38.63 M332.47 463.4 H328.97" stroke="#262626" stroke-width="0.9"/>
<text x="11.7" y="467.15" font-size="9.8" textLength="20.01" lengthAdjust="spacingAndGlyphs">0.00</text>
<path d="M35.13 443.97 H38.63 M332.47 443.97 H328.97" stroke="#262626" stroke-width="0.9"/>
<text x="11.89" y="447.72" font-size="9.8" textLength="19.87" lengthAdjust="spacingAndGlyphs">0.25</text>
<path d="M35.13 424.55 H38.63 M332.47 424.55 H328.97" stroke="#262626" stroke-width="0.9"/>
<text x="11.7" y="428.3" font-size="9.8" textLength="20.01" lengthAdjust="spacingAndGlyphs">0.50</text>
<path d="M35.13 405.12 H38.63 M332.47 405.12 H328.97" stroke="#262626" stroke-width="0.9"/>
<text x="11.89" y="408.88" font-size="9.8" textLength="19.87" lengthAdjust="spacingAndGlyphs">0.75</text>
<path d="M35.13 385.7 H38.63 M332.47 385.7 H328.97" stroke="#262626" stroke-width="0.9"/>
<text x="11.66" y="389.45" font-size="9.8" textLength="20.05" lengthAdjust="spacingAndGlyphs">1.00</text>
<text x="56.11" y="473.8" font-size="9.8" textLength="27.37" lengthAdjust="spacingAndGlyphs">−0.75</text>
<text x="93.94" y="473.8" font-size="9.8" textLength="27.51" lengthAdjust="spacingAndGlyphs">−0.50</text>
<text x="131.96" y="473.8" font-size="9.8" textLength="27.37" lengthAdjust="spacingAndGlyphs">−0.25</text>
<text x="173.8" y="473.8" font-size="9.8" textLength="20.01" lengthAdjust="spacingAndGlyphs">0.00</text>
<text x="211.82" y="473.8" font-size="9.8" textLength="19.87" lengthAdjust="spacingAndGlyphs">0.25</text>
<text x="249.65" y="473.8" font-size="9.8" textLength="20.01" lengthAdjust="spacingAndGlyphs">0.50</text>
<text x="287.67" y="473.8" font-size="9.8" textLength="19.87" lengthAdjust="spacingAndGlyphs">0.75</text>
<text x="44.6" y="14.8" font-size="11.2" textLength="12.99" lengthAdjust="spacingAndGlyphs" font-style="italic">pp</text>
<path d="M57.9 11.8L65 11.8" stroke="#000" stroke-width="1.2" fill="none"/>
<path d="M62.6 9.8L67 11.8L62.6 13.8Z" fill="#000"/>
<text x="66.87" y="14.8" font-size="11.2" textLength="6.13" lengthAdjust="spacingAndGlyphs" font-style="italic">e</text>
<path d="M73.4 8.5L78.2 8.5" stroke="#000" stroke-width="0.9" fill="none"/>
<text x="80.69" y="14.8" font-size="11.2" textLength="5.67" lengthAdjust="spacingAndGlyphs" font-style="italic">ν</text>
<path d="M82.9 7.3L85.4 7.3" stroke="#000" stroke-width="0.8" fill="none"/>
<text x="86.55" y="17" font-size="8.0" textLength="4.65" lengthAdjust="spacingAndGlyphs" font-style="italic">e</text>
<text x="91.3" y="14.8" font-size="11.2" textLength="6.75" lengthAdjust="spacingAndGlyphs" font-style="italic">μ</text>
<text x="98.61" y="11.6" font-size="8.2" textLength="5.01" lengthAdjust="spacingAndGlyphs">+</text>
<text x="104.9" y="14.8" font-size="11.2" textLength="6.46" lengthAdjust="spacingAndGlyphs" font-style="italic">μ</text>
<path d="M112.3 8.5L116.8 8.5" stroke="#000" stroke-width="0.9" fill="none"/>
<text x="118.8" y="14.8" font-size="11.2" textLength="73.9" lengthAdjust="spacingAndGlyphs">@NLOQCDEW</text>
<path d="M197.9 5.8L197.9 16.8" stroke="#000" stroke-width="1.0" fill="none"/>
<path d="M203.9 10.8 L205.2 10.2 L207.4 15.1 L210.8 5.1 H218" fill="none" stroke="#000" stroke-width="0.9"/>
<text x="211.9" y="14.8" font-size="11.2" textLength="5.94" lengthAdjust="spacingAndGlyphs" font-style="italic">s</text>
<text x="221.49" y="14.8" font-size="11.2" textLength="7.87" lengthAdjust="spacingAndGlyphs">=</text>
<text x="231.41" y="14.8" font-size="11.2" textLength="33.8" lengthAdjust="spacingAndGlyphs">13TeV</text>
<path d="M270.9 5.8L270.9 16.8" stroke="#000" stroke-width="1.0" fill="none"/>
<text x="276.1" y="14.8" font-size="11.2" textLength="47.08" lengthAdjust="spacingAndGlyphs">ATLASfid</text>
<text x="109.75" y="39.8" font-size="12.8" textLength="7.7" lengthAdjust="spacingAndGlyphs">d</text>
<text x="116.65" y="39.8" font-size="12.8" textLength="6.98" lengthAdjust="spacingAndGlyphs" font-style="italic">σ</text>
<text x="124.2" y="39.8" font-size="12.8" textLength="37.44" lengthAdjust="spacingAndGlyphs">/dcos(</text>
<text x="161.77" y="39.8" font-size="12.8" textLength="7.64" lengthAdjust="spacingAndGlyphs" font-style="italic">θ</text>
<text x="170.65" y="42.7" font-size="9.0" textLength="4.65" lengthAdjust="spacingAndGlyphs" font-style="italic">e</text>
<text x="171.41" y="34.6" font-size="9.0" textLength="14.51" lengthAdjust="spacingAndGlyphs" font-style="italic">WZ</text>
<text x="187.24" y="39.8" font-size="12.8" textLength="3.7" lengthAdjust="spacingAndGlyphs">)</text>
<text x="191.99" y="39.8" font-size="12.8" textLength="3.61" lengthAdjust="spacingAndGlyphs">[</text>
<text x="195.86" y="39.8" font-size="12.8" textLength="11.9" lengthAdjust="spacingAndGlyphs">fb</text>
<text x="209.14" y="39.8" font-size="12.8" textLength="3.52" lengthAdjust="spacingAndGlyphs">]</text>
<text x="164.26" y="486.6" font-size="9.3" textLength="16.08" lengthAdjust="spacingAndGlyphs">cos(</text>
<text x="180.16" y="486.6" font-size="9.3" textLength="5.31" lengthAdjust="spacingAndGlyphs" font-style="italic">θ</text>
<text x="187.8" y="490" font-size="6.6" textLength="3.63" lengthAdjust="spacingAndGlyphs" font-style="italic">e</text>
<text x="187.03" y="484" font-size="6.6" textLength="12.33" lengthAdjust="spacingAndGlyphs" font-style="italic">WZ</text>
<text x="199.85" y="486.6" font-size="9.3" textLength="3.21" lengthAdjust="spacingAndGlyphs">)</text>
<text transform="translate(21.4 288.6) rotate(-90)" x="-0.73" y="0" font-size="9.6" textLength="54.1" lengthAdjust="spacingAndGlyphs">NLOQCD/LO</text>
<text transform="translate(7.4 453.6) rotate(-90)" x="-0.65" y="0" font-size="9.8" textLength="60.28" lengthAdjust="spacingAndGlyphs">norm. shapes</text>
<text transform="translate(14.4 359.6) rotate(-90)" x="-0.3" y="0" font-size="9.7" textLength="5.61" lengthAdjust="spacingAndGlyphs" font-style="italic">δ</text>
<path d="M5 359.8V354" stroke="#000" stroke-width="0.8"/>
<text transform="translate(15 354) rotate(-90)" x="-0.18" y="0" font-size="6.9" textLength="9.9" lengthAdjust="spacingAndGlyphs" font-style="italic">EW</text>
<text transform="translate(13.4 343) rotate(-90)" x="-0.77" y="0" font-size="9.2" textLength="15.83" lengthAdjust="spacingAndGlyphs">[%]</text>
<path d="M113 70.9H135.5" stroke="#000000" stroke-width="1.6"/>
<path d="M113 86.3H135.5" stroke="#ff00ff" stroke-width="1.6"/>
<path d="M113 102H135.5" stroke="#0000ff" stroke-width="1.6"/>
<path d="M216.1 70.9H239" stroke="#117511" stroke-width="1.6"/>
<path d="M216.1 86.3H239" stroke="#ff9000" stroke-width="1.6"/>
<path d="M216.1 102H239" stroke="#ff0000" stroke-width="1.6"/>
<text x="143.27" y="74.8" font-size="11.2" textLength="62.87" lengthAdjust="spacingAndGlyphs">unpolarized</text>
<text x="143.25" y="90.2" font-size="11.2" textLength="57.33" lengthAdjust="spacingAndGlyphs">polar. sum</text>
<text x="143.48" y="105.1" font-size="10.2" textLength="10.24" lengthAdjust="spacingAndGlyphs" font-style="italic">W</text>
<text x="153.27" y="107.4" font-size="8.3" textLength="4.95" lengthAdjust="spacingAndGlyphs" font-style="italic">T</text>
<text x="158.7" y="105.1" font-size="10.2" textLength="6.76" lengthAdjust="spacingAndGlyphs" font-style="italic">Z</text>
<text x="165.18" y="107.4" font-size="8.3" textLength="5.58" lengthAdjust="spacingAndGlyphs" font-style="italic">T</text>
<text x="246.88" y="74" font-size="10.2" textLength="10.24" lengthAdjust="spacingAndGlyphs" font-style="italic">W</text>
<text x="256.67" y="76.3" font-size="8.3" textLength="4.95" lengthAdjust="spacingAndGlyphs" font-style="italic">T</text>
<text x="262.1" y="74" font-size="10.2" textLength="6.76" lengthAdjust="spacingAndGlyphs" font-style="italic">Z</text>
<text x="269.05" y="76.3" font-size="8.3" textLength="6.41" lengthAdjust="spacingAndGlyphs" font-style="italic">L</text>
<text x="246.88" y="89.4" font-size="10.2" textLength="10.24" lengthAdjust="spacingAndGlyphs" font-style="italic">W</text>
<text x="257.09" y="91.7" font-size="8.3" textLength="5.68" lengthAdjust="spacingAndGlyphs" font-style="italic">L</text>
<text x="262.1" y="89.4" font-size="10.2" textLength="6.76" lengthAdjust="spacingAndGlyphs" font-style="italic">Z</text>
<text x="268.58" y="91.7" font-size="8.3" textLength="5.58" lengthAdjust="spacingAndGlyphs" font-style="italic">T</text>
<text x="246.88" y="105.1" font-size="10.2" textLength="10.24" lengthAdjust="spacingAndGlyphs" font-style="italic">W</text>
<text x="257.09" y="107.4" font-size="8.3" textLength="5.68" lengthAdjust="spacingAndGlyphs" font-style="italic">L</text>
<text x="262.1" y="105.1" font-size="10.2" textLength="6.76" lengthAdjust="spacingAndGlyphs" font-style="italic">Z</text>
<text x="269.05" y="107.4" font-size="8.3" textLength="6.41" lengthAdjust="spacingAndGlyphs" font-style="italic">L</text>
<clipPath id="cRmain"><rect x="386.64" y="18.7" width="297.53" height="199.3"/></clipPath>
<clipPath id="cRratio"><rect x="386.64" y="221.7" width="297.53" height="77.8"/></clipPath>
<clipPath id="cRdew"><rect x="386.64" y="302.8" width="297.53" height="77.7"/></clipPath>
<clipPath id="cRnorm"><rect x="386.64" y="383.9" width="297.53" height="77.7"/></clipPath>
<g clip-path="url(#cRmain)" fill="none" stroke-width="1.6" stroke-linejoin="miter">
<path stroke="#000000" d="M386.64 146.05 L386.64 101.75 L392.71 101.75 L392.71 70.69 L398.78 70.69 L398.78 60.76 L404.85 60.76 L404.85 57.07 L410.92 57.07 L410.92 55.03 L417 55.03 L417 54.52 L423.07 54.52 L423.07 54.52 L429.14 54.52 L429.14 54.78 L435.21 54.78 L435.21 55.79 L441.28 55.79 L441.28 56.69 L447.36 56.69 L447.36 57.58 L453.43 57.58 L453.43 58.72 L459.5 58.72 L459.5 58.44 L465.57 58.44 L465.57 59.12 L471.64 59.12 L471.64 59.68 L477.72 59.68 L477.72 60.16 L483.79 60.16 L483.79 60.68 L489.86 60.68 L489.86 61.14 L495.93 61.14 L495.93 61.48 L502 61.48 L502 61.67 L508.08 61.67 L508.08 61.76 L514.15 61.76 L514.15 61.77 L520.22 61.77 L520.22 61.69 L526.29 61.69 L526.29 61.5 L532.36 61.5 L532.36 61.11 L538.44 61.11 L538.44 60.73 L544.51 60.73 L544.51 60.24 L550.58 60.24 L550.58 59.53 L556.65 59.53 L556.65 58.74 L562.72 58.74 L562.72 57.88 L568.8 57.88 L568.8 57.03 L574.87 57.03 L574.87 56.18 L580.94 56.18 L580.94 55.29 L587.01 55.29 L587.01 54.37 L593.08 54.37 L593.08 53.43 L599.16 53.43 L599.16 52.55 L605.23 52.55 L605.23 51.76 L611.3 51.76 L611.3 51.08 L617.37 51.08 L617.37 49.43 L623.44 49.43 L623.44 48.16 L629.52 48.16 L629.52 46.76 L635.59 46.76 L635.59 45.86 L641.66 45.86 L641.66 45.36 L647.73 45.36 L647.73 45.61 L653.8 45.61 L653.8 47.01 L659.88 47.01 L659.88 50.7 L665.95 50.7 L665.95 60.89 L672.02 60.89 L672.02 93.98 L678.09 93.98 L678.09 146.18 L684.16 146.18"/>
<path stroke="#ff00ff" d="M386.64 146.05 L386.64 100.35 L392.71 100.35 L392.71 70.94 L398.78 70.94 L398.78 61.65 L404.85 61.65 L404.85 57.96 L410.92 57.96 L410.92 55.92 L417 55.92 L417 55.41 L423.07 55.41 L423.07 55.41 L429.14 55.41 L429.14 55.67 L435.21 55.67 L435.21 56.69 L441.28 56.69 L441.28 57.58 L447.36 57.58 L447.36 58.47 L453.43 58.47 L453.43 59.61 L459.5 59.61 L459.5 59.33 L465.57 59.33 L465.57 60.01 L471.64 60.01 L471.64 60.57 L477.72 60.57 L477.72 61.06 L483.79 61.06 L483.79 61.57 L489.86 61.57 L489.86 62.03 L495.93 62.03 L495.93 62.37 L502 62.37 L502 62.56 L508.08 62.56 L508.08 62.65 L514.15 62.65 L514.15 62.66 L520.22 62.66 L520.22 62.59 L526.29 62.59 L526.29 62.39 L532.36 62.39 L532.36 62 L538.44 62 L538.44 61.62 L544.51 61.62 L544.51 61.13 L550.58 61.13 L550.58 60.42 L556.65 60.42 L556.65 59.63 L562.72 59.63 L562.72 58.77 L568.8 58.77 L568.8 57.92 L574.87 57.92 L574.87 57.07 L580.94 57.07 L580.94 56.18 L587.01 56.18 L587.01 55.26 L593.08 55.26 L593.08 54.33 L599.16 54.33 L599.16 53.44 L605.23 53.44 L605.23 52.65 L611.3 52.65 L611.3 51.98 L617.37 51.98 L617.37 50.32 L623.44 50.32 L623.44 49.05 L629.52 49.05 L629.52 47.65 L635.59 47.65 L635.59 46.76 L641.66 46.76 L641.66 46.25 L647.73 46.25 L647.73 46.5 L653.8 46.5 L653.8 47.9 L659.88 47.9 L659.88 51.59 L665.95 51.59 L665.95 61.78 L672.02 61.78 L672.02 93.22 L678.09 93.22 L678.09 142.99 L684.16 142.99"/>
<path stroke="#0000ff" d="M386.64 164.38 L386.64 126.95 L392.71 126.95 L392.71 105.44 L398.78 105.44 L398.78 100.35 L404.85 100.35 L404.85 100.35 L410.92 100.35 L410.92 101.75 L417 101.75 L417 104.04 L423.07 104.04 L423.07 106.46 L429.14 106.46 L429.14 109.26 L435.21 109.26 L435.21 112.06 L441.28 112.06 L441.28 114.73 L447.36 114.73 L447.36 117.15 L453.43 117.15 L453.43 119.57 L459.5 119.57 L459.5 121.86 L465.57 121.86 L465.57 123.68 L471.64 123.68 L471.64 125.21 L477.72 125.21 L477.72 126.58 L483.79 126.58 L483.79 127.99 L489.86 127.99 L489.86 129.37 L495.93 129.37 L495.93 130.83 L502 130.83 L502 131.97 L508.08 131.97 L508.08 132.73 L514.15 132.73 L514.15 133.26 L520.22 133.26 L520.22 133.65 L526.29 133.65 L526.29 133.62 L532.36 133.62 L532.36 133.3 L538.44 133.3 L538.44 132.94 L544.51 132.94 L544.51 132.38 L550.58 132.38 L550.58 131.31 L556.65 131.31 L556.65 130.11 L562.72 130.11 L562.72 128.83 L568.8 128.83 L568.8 127.43 L574.87 127.43 L574.87 125.92 L580.94 125.92 L580.94 124.36 L587.01 124.36 L587.01 122.58 L593.08 122.58 L593.08 120.11 L599.16 120.11 L599.16 117.49 L605.23 117.49 L605.23 115.05 L611.3 115.05 L611.3 112.44 L617.37 112.44 L617.37 109.26 L623.44 109.26 L623.44 105.95 L629.52 105.95 L629.52 102.64 L635.59 102.64 L635.59 99.71 L641.66 99.71 L641.66 96.78 L647.73 96.78 L647.73 94.49 L653.8 94.49 L653.8 92.33 L659.88 92.33 L659.88 92.71 L665.95 92.71 L665.95 97.68 L672.02 97.68 L672.02 121.23 L678.09 121.23 L678.09 160.05 L684.16 160.05"/>
<path stroke="#117511" d="M386.64 209.06 L386.64 207.54 L392.71 207.54 L392.71 204.99 L398.78 204.99 L398.78 202.83 L404.85 202.83 L404.85 200.28 L410.92 200.28 L410.92 197.86 L417 197.86 L417 195.7 L423.07 195.7 L423.07 193.66 L429.14 193.66 L429.14 191.5 L435.21 191.5 L435.21 189.59 L441.28 189.59 L441.28 187.8 L447.36 187.8 L447.36 186.02 L453.43 186.02 L453.43 184.49 L459.5 184.49 L459.5 183.09 L465.57 183.09 L465.57 181.21 L471.64 181.21 L471.64 179.74 L477.72 179.74 L477.72 178.74 L483.79 178.74 L483.79 177.65 L489.86 177.65 L489.86 176.59 L495.93 176.59 L495.93 175.94 L502 175.94 L502 175.43 L508.08 175.43 L508.08 174.9 L514.15 174.9 L514.15 174.48 L520.22 174.48 L520.22 174.13 L526.29 174.13 L526.29 174.11 L532.36 174.11 L532.36 174.41 L538.44 174.41 L538.44 174.68 L544.51 174.68 L544.51 174.98 L550.58 174.98 L550.58 175.37 L556.65 175.37 L556.65 175.88 L562.72 175.88 L562.72 176.59 L568.8 176.59 L568.8 177.39 L574.87 177.39 L574.87 178.31 L580.94 178.31 L580.94 179.45 L587.01 179.45 L587.01 180.77 L593.08 180.77 L593.08 182.01 L599.16 182.01 L599.16 183.18 L605.23 183.18 L605.23 184.11 L611.3 184.11 L611.3 185.26 L617.37 185.26 L617.37 187.55 L623.44 187.55 L623.44 189.33 L629.52 189.33 L629.52 191.5 L635.59 191.5 L635.59 193.66 L641.66 193.66 L641.66 195.7 L647.73 195.7 L647.73 197.86 L653.8 197.86 L653.8 200.03 L659.88 200.03 L659.88 202.44 L665.95 202.44 L665.95 204.99 L672.02 204.99 L672.02 207.54 L678.09 207.54 L678.09 209.45 L684.16 209.45"/>
<path stroke="#ff9000" d="M386.64 194.42 L386.64 187.55 L392.71 187.55 L392.71 182.71 L398.78 182.71 L398.78 181.69 L404.85 181.69 L404.85 181.18 L410.92 181.18 L410.92 181.44 L417 181.44 L417 181.95 L423.07 181.95 L423.07 182.46 L429.14 182.46 L429.14 183.09 L435.21 183.09 L435.21 183.86 L441.28 183.86 L441.28 184.49 L447.36 184.49 L447.36 185 L453.43 185 L453.43 185.64 L459.5 185.64 L459.5 186.06 L465.57 186.06 L465.57 186.42 L471.64 186.42 L471.64 186.94 L477.72 186.94 L477.72 187.65 L483.79 187.65 L483.79 187.97 L489.86 187.97 L489.86 188.16 L495.93 188.16 L495.93 188.38 L502 188.38 L502 188.58 L508.08 188.58 L508.08 188.76 L514.15 188.76 L514.15 188.82 L520.22 188.82 L520.22 188.82 L526.29 188.82 L526.29 188.82 L532.36 188.82 L532.36 188.82 L538.44 188.82 L538.44 188.74 L544.51 188.74 L544.51 188.55 L550.58 188.55 L550.58 188.28 L556.65 188.28 L556.65 187.96 L562.72 187.96 L562.72 187.62 L568.8 187.62 L568.8 187.18 L574.87 187.18 L574.87 186.6 L580.94 186.6 L580.94 185.97 L587.01 185.97 L587.01 185.32 L593.08 185.32 L593.08 184.85 L599.16 184.85 L599.16 184.47 L605.23 184.47 L605.23 184.2 L611.3 184.2 L611.3 183.86 L617.37 183.86 L617.37 182.84 L623.44 182.84 L623.44 181.95 L629.52 181.95 L629.52 181.18 L635.59 181.18 L635.59 180.29 L641.66 180.29 L641.66 179.78 L647.73 179.78 L647.73 179.53 L653.8 179.53 L653.8 179.53 L659.88 179.53 L659.88 179.78 L665.95 179.78 L665.95 181.44 L672.02 181.44 L672.02 186.4 L678.09 186.4 L678.09 193.66 L684.16 193.66"/>
<path stroke="#ff0000" d="M386.64 209.7 L386.64 209.45 L392.71 209.45 L392.71 208.3 L398.78 208.3 L398.78 207.15 L404.85 207.15 L404.85 206.14 L410.92 206.14 L410.92 204.99 L417 204.99 L417 203.84 L423.07 203.84 L423.07 203.08 L429.14 203.08 L429.14 202.19 L435.21 202.19 L435.21 201.68 L441.28 201.68 L441.28 201.04 L447.36 201.04 L447.36 200.66 L453.43 200.66 L453.43 200.03 L459.5 200.03 L459.5 199.52 L465.57 199.52 L465.57 199.19 L471.64 199.19 L471.64 198.81 L477.72 198.81 L477.72 198.29 L483.79 198.29 L483.79 197.82 L489.86 197.82 L489.86 197.4 L495.93 197.4 L495.93 197.09 L502 197.09 L502 196.83 L508.08 196.83 L508.08 196.61 L514.15 196.61 L514.15 196.42 L520.22 196.42 L520.22 196.25 L526.29 196.25 L526.29 196.21 L532.36 196.21 L532.36 196.21 L538.44 196.21 L538.44 196.29 L544.51 196.29 L544.51 196.48 L550.58 196.48 L550.58 196.75 L556.65 196.75 L556.65 197.07 L562.72 197.07 L562.72 197.42 L568.8 197.42 L568.8 197.81 L574.87 197.81 L574.87 198.23 L580.94 198.23 L580.94 198.65 L587.01 198.65 L587.01 199.08 L593.08 199.08 L593.08 199.62 L599.16 199.62 L599.16 200.04 L605.23 200.04 L605.23 200.15 L611.3 200.15 L611.3 200.28 L617.37 200.28 L617.37 201.17 L623.44 201.17 L623.44 202.06 L629.52 202.06 L629.52 202.83 L635.59 202.83 L635.59 203.59 L641.66 203.59 L641.66 204.48 L647.73 204.48 L647.73 205.24 L653.8 205.24 L653.8 206.14 L659.88 206.14 L659.88 207.15 L665.95 207.15 L665.95 208.05 L672.02 208.05 L672.02 208.81 L678.09 208.81 L678.09 209.57 L684.16 209.57"/>
</g>
<g clip-path="url(#cRratio)" fill="none" stroke-width="1.6" stroke-linejoin="miter">
<path stroke="#000000" d="M386.64 269.71 L392.71 269.71 L392.71 270.83 L398.78 270.83 L398.78 270.67 L404.85 270.67 L404.85 270.34 L410.92 270.34 L410.92 270.03 L417 270.03 L417 269.89 L423.07 269.89 L423.07 269.8 L429.14 269.8 L429.14 269.74 L435.21 269.74 L435.21 269.69 L441.28 269.69 L441.28 269.64 L447.36 269.64 L447.36 269.59 L453.43 269.59 L453.43 269.53 L459.5 269.53 L459.5 269.44 L465.57 269.44 L465.57 269.33 L471.64 269.33 L471.64 269.2 L477.72 269.2 L477.72 269.09 L483.79 269.09 L483.79 269.01 L489.86 269.01 L489.86 268.94 L495.93 268.94 L495.93 268.86 L502 268.86 L502 268.79 L508.08 268.79 L508.08 268.73 L514.15 268.73 L514.15 268.68 L520.22 268.68 L520.22 268.64 L526.29 268.64 L526.29 268.61 L532.36 268.61 L532.36 268.6 L538.44 268.6 L538.44 268.6 L544.51 268.6 L544.51 268.6 L550.58 268.6 L550.58 268.6 L556.65 268.6 L556.65 268.6 L562.72 268.6 L562.72 268.6 L568.8 268.6 L568.8 268.6 L574.87 268.6 L574.87 268.6 L580.94 268.6 L580.94 268.6 L587.01 268.6 L587.01 268.61 L593.08 268.61 L593.08 268.63 L599.16 268.63 L599.16 268.67 L605.23 268.67 L605.23 268.72 L611.3 268.72 L611.3 268.78 L617.37 268.78 L617.37 268.86 L623.44 268.86 L623.44 268.94 L629.52 268.94 L629.52 269.02 L635.59 269.02 L635.59 269.16 L641.66 269.16 L641.66 269.4 L647.73 269.4 L647.73 269.68 L653.8 269.68 L653.8 269.95 L659.88 269.95 L659.88 270.12 L665.95 270.12 L665.95 270.1 L672.02 270.1 L672.02 269.49 L678.09 269.49 L678.09 264.82 L684.16 264.82"/>
<path stroke="#0000ff" d="M386.64 273.49 L392.71 273.49 L392.71 274.83 L398.78 274.83 L398.78 274.8 L404.85 274.8 L404.85 274.74 L410.92 274.74 L410.92 274.66 L417 274.66 L417 274.56 L423.07 274.56 L423.07 274.48 L429.14 274.48 L429.14 274.4 L435.21 274.4 L435.21 274.36 L441.28 274.36 L441.28 274.33 L447.36 274.33 L447.36 274.3 L453.43 274.3 L453.43 274.28 L459.5 274.28 L459.5 274.26 L465.57 274.26 L465.57 274.24 L471.64 274.24 L471.64 274.21 L477.72 274.21 L477.72 274.18 L483.79 274.18 L483.79 274.14 L489.86 274.14 L489.86 274.06 L495.93 274.06 L495.93 273.97 L502 273.97 L502 273.87 L508.08 273.87 L508.08 273.76 L514.15 273.76 L514.15 273.66 L520.22 273.66 L520.22 273.57 L526.29 273.57 L526.29 273.51 L532.36 273.51 L532.36 273.49 L538.44 273.49 L538.44 273.49 L544.51 273.49 L544.51 273.49 L550.58 273.49 L550.58 273.49 L556.65 273.49 L556.65 273.49 L562.72 273.49 L562.72 273.49 L568.8 273.49 L568.8 273.49 L574.87 273.49 L574.87 273.49 L580.94 273.49 L580.94 273.49 L587.01 273.49 L587.01 273.49 L593.08 273.49 L593.08 273.49 L599.16 273.49 L599.16 273.49 L605.23 273.49 L605.23 273.49 L611.3 273.49 L611.3 273.49 L617.37 273.49 L617.37 273.49 L623.44 273.49 L623.44 273.49 L629.52 273.49 L629.52 273.49 L635.59 273.49 L635.59 273.5 L641.66 273.5 L641.66 273.55 L647.73 273.55 L647.73 273.61 L653.8 273.61 L653.8 273.67 L659.88 273.67 L659.88 273.71 L665.95 273.71 L665.95 273.62 L672.02 273.62 L672.02 272.6 L678.09 272.6 L678.09 267.27 L684.16 267.27"/>
<path stroke="#117511" d="M386.64 250.6 L392.71 250.6 L392.71 250.15 L398.78 250.15 L398.78 250.15 L404.85 250.15 L404.85 250.15 L410.92 250.15 L410.92 250.15 L417 250.15 L417 250.15 L423.07 250.15 L423.07 250.19 L429.14 250.19 L429.14 250.32 L435.21 250.32 L435.21 250.52 L441.28 250.52 L441.28 250.73 L447.36 250.73 L447.36 250.91 L453.43 250.91 L453.43 251.03 L459.5 251.03 L459.5 251.04 L465.57 251.04 L465.57 251.04 L471.64 251.04 L471.64 251.04 L477.72 251.04 L477.72 251.04 L483.79 251.04 L483.79 251.04 L489.86 251.04 L489.86 251.04 L495.93 251.04 L495.93 251.04 L502 251.04 L502 251.04 L508.08 251.04 L508.08 251.04 L514.15 251.04 L514.15 251.04 L520.22 251.04 L520.22 251.04 L526.29 251.04 L526.29 251.04 L532.36 251.04 L532.36 251.04 L538.44 251.04 L538.44 251.06 L544.51 251.06 L544.51 251.11 L550.58 251.11 L550.58 251.18 L556.65 251.18 L556.65 251.26 L562.72 251.26 L562.72 251.34 L568.8 251.34 L568.8 251.41 L574.87 251.41 L574.87 251.46 L580.94 251.46 L580.94 251.49 L587.01 251.49 L587.01 251.48 L593.08 251.48 L593.08 251.46 L599.16 251.46 L599.16 251.42 L605.23 251.42 L605.23 251.37 L611.3 251.37 L611.3 251.3 L617.37 251.3 L617.37 251.23 L623.44 251.23 L623.44 251.15 L629.52 251.15 L629.52 251.06 L635.59 251.06 L635.59 250.93 L641.66 250.93 L641.66 250.71 L647.73 250.71 L647.73 250.45 L653.8 250.45 L653.8 250.24 L659.88 250.24 L659.88 250.15 L665.95 250.15 L665.95 250.37 L672.02 250.37 L672.02 250.6 L678.09 250.6 L678.09 248.82 L684.16 248.82"/>
<path stroke="#ff9000" d="M386.64 254.82 L392.71 254.82 L392.71 251.49 L398.78 251.49 L398.78 250.37 L404.85 250.37 L404.85 250.37 L410.92 250.37 L410.92 250.37 L417 250.37 L417 250.37 L423.07 250.37 L423.07 250.62 L429.14 250.62 L429.14 251.16 L435.21 251.16 L435.21 251.74 L441.28 251.74 L441.28 252.15 L447.36 252.15 L447.36 252.52 L453.43 252.52 L453.43 252.84 L459.5 252.84 L459.5 253.1 L465.57 253.1 L465.57 253.31 L471.64 253.31 L471.64 253.48 L477.72 253.48 L477.72 253.63 L483.79 253.63 L483.79 253.78 L489.86 253.78 L489.86 253.92 L495.93 253.92 L495.93 254.07 L502 254.07 L502 254.21 L508.08 254.21 L508.08 254.34 L514.15 254.34 L514.15 254.45 L520.22 254.45 L520.22 254.53 L526.29 254.53 L526.29 254.59 L532.36 254.59 L532.36 254.6 L538.44 254.6 L538.44 254.55 L544.51 254.55 L544.51 254.45 L550.58 254.45 L550.58 254.31 L556.65 254.31 L556.65 254.13 L562.72 254.13 L562.72 253.92 L568.8 253.92 L568.8 253.7 L574.87 253.7 L574.87 253.48 L580.94 253.48 L580.94 253.26 L587.01 253.26 L587.01 253.04 L593.08 253.04 L593.08 252.78 L599.16 252.78 L599.16 252.49 L605.23 252.49 L605.23 252.18 L611.3 252.18 L611.3 251.87 L617.37 251.87 L617.37 251.54 L623.44 251.54 L623.44 251.22 L629.52 251.22 L629.52 250.9 L635.59 250.9 L635.59 250.55 L641.66 250.55 L641.66 250.13 L647.73 250.13 L647.73 249.72 L653.8 249.72 L653.8 249.4 L659.88 249.4 L659.88 249.26 L665.95 249.26 L665.95 249.71 L672.02 249.71 L672.02 254.15 L678.09 254.15 L678.09 259.04 L684.16 259.04"/>
<path stroke="#ff0000" d="M386.64 283.5 L392.71 283.5 L392.71 282.61 L398.78 282.61 L398.78 282.1 L404.85 282.1 L404.85 281.77 L410.92 281.77 L410.92 281.68 L417 281.68 L417 281.63 L423.07 281.63 L423.07 281.59 L429.14 281.59 L429.14 281.56 L435.21 281.56 L435.21 281.53 L441.28 281.53 L441.28 281.51 L447.36 281.51 L447.36 281.5 L453.43 281.5 L453.43 281.5 L459.5 281.5 L459.5 281.5 L465.57 281.5 L465.57 281.5 L471.64 281.5 L471.64 281.52 L477.72 281.52 L477.72 281.54 L483.79 281.54 L483.79 281.56 L489.86 281.56 L489.86 281.59 L495.93 281.59 L495.93 281.61 L502 281.61 L502 281.64 L508.08 281.64 L508.08 281.66 L514.15 281.66 L514.15 281.68 L520.22 281.68 L520.22 281.7 L526.29 281.7 L526.29 281.71 L532.36 281.71 L532.36 281.72 L538.44 281.72 L538.44 281.72 L544.51 281.72 L544.51 281.72 L550.58 281.72 L550.58 281.72 L556.65 281.72 L556.65 281.72 L562.72 281.72 L562.72 281.72 L568.8 281.72 L568.8 281.72 L574.87 281.72 L574.87 281.72 L580.94 281.72 L580.94 281.72 L587.01 281.72 L587.01 281.72 L593.08 281.72 L593.08 281.73 L599.16 281.73 L599.16 281.75 L605.23 281.75 L605.23 281.77 L611.3 281.77 L611.3 281.8 L617.37 281.8 L617.37 281.84 L623.44 281.84 L623.44 281.88 L629.52 281.88 L629.52 281.93 L635.59 281.93 L635.59 281.99 L641.66 281.99 L641.66 282.1 L647.73 282.1 L647.73 282.24 L653.8 282.24 L653.8 282.43 L659.88 282.43 L659.88 282.67 L665.95 282.67 L665.95 282.96 L672.02 282.96 L672.02 283.5 L678.09 283.5 L678.09 284.16 L684.16 284.16"/>
</g>
<g clip-path="url(#cRdew)" fill="none" stroke-width="1.6" stroke-linejoin="miter">
<path stroke="#000000" d="M386.64 343.9 L392.71 343.9 L392.71 342.87 L398.78 342.87 L398.78 342.05 L404.85 342.05 L404.85 341.33 L410.92 341.33 L410.92 340.66 L417 340.66 L417 339.99 L423.07 339.99 L423.07 339.53 L429.14 339.53 L429.14 339.32 L435.21 339.32 L435.21 339.15 L441.28 339.15 L441.28 339.03 L447.36 339.03 L447.36 338.98 L453.43 338.98 L453.43 339 L459.5 339 L459.5 339.08 L465.57 339.08 L465.57 339.21 L471.64 339.21 L471.64 339.36 L477.72 339.36 L477.72 339.54 L483.79 339.54 L483.79 339.73 L489.86 339.73 L489.86 340 L495.93 340 L495.93 340.3 L502 340.3 L502 340.55 L508.08 340.55 L508.08 340.77 L514.15 340.77 L514.15 341.03 L520.22 341.03 L520.22 341.43 L526.29 341.43 L526.29 341.95 L532.36 341.95 L532.36 342.46 L538.44 342.46 L538.44 342.93 L544.51 342.93 L544.51 343.41 L550.58 343.41 L550.58 343.9 L556.65 343.9 L556.65 344.4 L562.72 344.4 L562.72 344.87 L568.8 344.87 L568.8 345.21 L574.87 345.21 L574.87 345.5 L580.94 345.5 L580.94 346.1 L587.01 346.1 L587.01 352.19 L593.08 352.19 L593.08 341.96 L599.16 341.96 L599.16 347.79 L605.23 347.79 L605.23 348.43 L611.3 348.43 L611.3 348.18 L617.37 348.18 L617.37 348.57 L623.44 348.57 L623.44 349.43 L629.52 349.43 L629.52 350.25 L635.59 350.25 L635.59 350.75 L641.66 350.75 L641.66 351.41 L647.73 351.41 L647.73 353.23 L653.8 353.23 L653.8 354.27 L659.88 354.27 L659.88 354.91 L665.95 354.91 L665.95 355.17 L672.02 355.17 L672.02 356.85 L678.09 356.85 L678.09 349.47 L684.16 349.47"/>
<path stroke="#0000ff" d="M386.64 349.73 L392.71 349.73 L392.71 348.82 L398.78 348.82 L398.78 348.34 L404.85 348.34 L404.85 347.97 L410.92 347.97 L410.92 347.47 L417 347.47 L417 346.81 L423.07 346.81 L423.07 346.23 L429.14 346.23 L429.14 345.97 L435.21 345.97 L435.21 345.97 L441.28 345.97 L441.28 346.88 L447.36 346.88 L447.36 345.97 L453.43 345.97 L453.43 345.97 L459.5 345.97 L459.5 346.62 L465.57 346.62 L465.57 347.92 L471.64 347.92 L471.64 345.97 L477.72 345.97 L477.72 346.62 L483.79 346.62 L483.79 347.79 L489.86 347.79 L489.86 347.88 L495.93 347.88 L495.93 349.45 L502 349.45 L502 351.01 L508.08 351.01 L508.08 351.9 L514.15 351.9 L514.15 351.56 L520.22 351.56 L520.22 350.14 L526.29 350.14 L526.29 351.55 L532.36 351.55 L532.36 352.87 L538.44 352.87 L538.44 353.43 L544.51 353.43 L544.51 353.83 L550.58 353.83 L550.58 354.15 L556.65 354.15 L556.65 354.5 L562.72 354.5 L562.72 355.46 L568.8 355.46 L568.8 356.53 L574.87 356.53 L574.87 357 L580.94 357 L580.94 357.24 L587.01 357.24 L587.01 357.89 L593.08 357.89 L593.08 357.89 L599.16 357.89 L599.16 359.83 L605.23 359.83 L605.23 357.24 L611.3 357.24 L611.3 358.54 L617.37 358.54 L617.37 359.18 L623.44 359.18 L623.44 359.41 L629.52 359.41 L629.52 359.54 L635.59 359.54 L635.59 359.65 L641.66 359.65 L641.66 359.83 L647.73 359.83 L647.73 360.09 L653.8 360.09 L653.8 360.46 L659.88 360.46 L659.88 361 L665.95 361 L665.95 362.16 L672.02 362.16 L672.02 364.23 L678.09 364.23 L678.09 355.17 L684.16 355.17"/>
<path stroke="#117511" d="M386.64 320.07 L392.71 320.07 L392.71 318.78 L398.78 318.78 L398.78 317.82 L404.85 317.82 L404.85 317.49 L410.92 317.49 L410.92 317.66 L417 317.66 L417 317.74 L423.07 317.74 L423.07 317.67 L429.14 317.67 L429.14 317.56 L435.21 317.56 L435.21 317.49 L441.28 317.49 L441.28 318.78 L447.36 318.78 L447.36 318.39 L453.43 318.39 L453.43 318.39 L459.5 318.39 L459.5 319.17 L465.57 319.17 L465.57 318.39 L471.64 318.39 L471.64 318.39 L477.72 318.39 L477.72 320.72 L483.79 320.72 L483.79 317.48 L489.86 317.48 L489.86 318.3 L495.93 318.3 L495.93 319.08 L502 319.08 L502 319.08 L508.08 319.08 L508.08 318.69 L514.15 318.69 L514.15 318.16 L520.22 318.16 L520.22 317.69 L526.29 317.69 L526.29 317.48 L532.36 317.48 L532.36 318.84 L538.44 318.84 L538.44 319.29 L544.51 319.29 L544.51 318.55 L550.58 318.55 L550.58 318.75 L556.65 318.75 L556.65 319.42 L562.72 319.42 L562.72 319.21 L568.8 319.21 L568.8 318.84 L574.87 318.84 L574.87 318.51 L580.94 318.51 L580.94 318.39 L587.01 318.39 L587.01 318.39 L593.08 318.39 L593.08 318.39 L599.16 318.39 L599.16 318.39 L605.23 318.39 L605.23 318.39 L611.3 318.39 L611.3 318.39 L617.37 318.39 L617.37 318.39 L623.44 318.39 L623.44 318.39 L629.52 318.39 L629.52 318.16 L635.59 318.16 L635.59 317.68 L641.66 317.68 L641.66 317.23 L647.73 317.23 L647.73 317.1 L653.8 317.1 L653.8 317.1 L659.88 317.1 L659.88 317.1 L665.95 317.1 L665.95 317.66 L672.02 317.66 L672.02 320.2 L678.09 320.2 L678.09 319.3 L684.16 319.3"/>
<path stroke="#ff9000" d="M386.64 330.05 L392.71 330.05 L392.71 329.52 L398.78 329.52 L398.78 329.12 L404.85 329.12 L404.85 329.01 L410.92 329.01 L410.92 329.01 L417 329.01 L417 329.01 L423.07 329.01 L423.07 329.01 L429.14 329.01 L429.14 329.05 L435.21 329.05 L435.21 329.3 L441.28 329.3 L441.28 329.67 L447.36 329.67 L447.36 329.99 L453.43 329.99 L453.43 330.17 L459.5 330.17 L459.5 330.32 L465.57 330.32 L465.57 330.48 L471.64 330.48 L471.64 330.66 L477.72 330.66 L477.72 330.85 L483.79 330.85 L483.79 331.05 L489.86 331.05 L489.86 331.25 L495.93 331.25 L495.93 331.49 L502 331.49 L502 331.84 L508.08 331.84 L508.08 332.37 L514.15 332.37 L514.15 332.86 L520.22 332.86 L520.22 333.23 L526.29 333.23 L526.29 333.54 L532.36 333.54 L532.36 333.86 L538.44 333.86 L538.44 334.23 L544.51 334.23 L544.51 334.69 L550.58 334.69 L550.58 335.12 L556.65 335.12 L556.65 335.39 L562.72 335.39 L562.72 335.58 L568.8 335.58 L568.8 335.74 L574.87 335.74 L574.87 335.84 L580.94 335.84 L580.94 335.87 L587.01 335.87 L587.01 335.83 L593.08 335.83 L593.08 335.75 L599.16 335.75 L599.16 335.64 L605.23 335.64 L605.23 335.49 L611.3 335.49 L611.3 335.25 L617.37 335.25 L617.37 335 L623.44 335 L623.44 334.84 L629.52 334.84 L629.52 334.75 L635.59 334.75 L635.59 334.68 L641.66 334.68 L641.66 334.63 L647.73 334.63 L647.73 334.59 L653.8 334.59 L653.8 334.58 L659.88 334.58 L659.88 335.28 L665.95 335.28 L665.95 336.59 L672.02 336.59 L672.02 337.3 L678.09 337.3 L678.09 335.61 L684.16 335.61"/>
<path stroke="#ff0000" d="M386.64 356.46 L392.71 356.46 L392.71 357.24 L398.78 357.24 L398.78 357.14 L404.85 357.14 L404.85 357 L410.92 357 L410.92 357.06 L417 357.06 L417 357.38 L423.07 357.38 L423.07 357.62 L429.14 357.62 L429.14 357.5 L435.21 357.5 L435.21 357.5 L441.28 357.5 L441.28 355.56 L447.36 355.56 L447.36 359.7 L453.43 359.7 L453.43 358.41 L459.5 358.41 L459.5 357.5 L465.57 357.5 L465.57 358.41 L471.64 358.41 L471.64 358.41 L477.72 358.41 L477.72 358.02 L483.79 358.02 L483.79 358.41 L489.86 358.41 L489.86 360.09 L495.93 360.09 L495.93 358.61 L502 358.61 L502 358.3 L508.08 358.3 L508.08 358.4 L514.15 358.4 L514.15 358.53 L520.22 358.53 L520.22 358.69 L526.29 358.69 L526.29 358.86 L532.36 358.86 L532.36 358.92 L538.44 358.92 L538.44 358.79 L544.51 358.79 L544.51 358.6 L550.58 358.6 L550.58 358.47 L556.65 358.47 L556.65 358.35 L562.72 358.35 L562.72 358.28 L568.8 358.28 L568.8 358.92 L574.87 358.92 L574.87 358.73 L580.94 358.73 L580.94 358.54 L587.01 358.54 L587.01 359.18 L593.08 359.18 L593.08 357.89 L599.16 357.89 L599.16 357.89 L605.23 357.89 L605.23 357.89 L611.3 357.89 L611.3 357.89 L617.37 357.89 L617.37 357.89 L623.44 357.89 L623.44 357.89 L629.52 357.89 L629.52 357.89 L635.59 357.89 L635.59 358.54 L641.66 358.54 L641.66 355.94 L647.73 355.94 L647.73 357.89 L653.8 357.89 L653.8 357.5 L659.88 357.5 L659.88 357.24 L665.95 357.24 L665.95 356.98 L672.02 356.98 L672.02 355.17 L678.09 355.17 L678.09 346.88 L684.16 346.88"/>
</g>
<g clip-path="url(#cRnorm)" fill="none" stroke-width="1.6" stroke-linejoin="miter">
<path stroke="#000000" d="M386.64 438.29 L386.64 433.55 L392.71 433.55 L392.71 425.31 L398.78 425.31 L398.78 422.83 L404.85 422.83 L404.85 421.74 L410.92 421.74 L410.92 420.96 L417 420.96 L417 420.5 L423.07 420.5 L423.07 420.5 L429.14 420.5 L429.14 420.51 L435.21 420.51 L435.21 420.54 L441.28 420.54 L441.28 420.6 L447.36 420.6 L447.36 420.67 L453.43 420.67 L453.43 420.76 L459.5 420.76 L459.5 420.88 L465.57 420.88 L465.57 421.16 L471.64 421.16 L471.64 421.51 L477.72 421.51 L477.72 421.84 L483.79 421.84 L483.79 422.07 L489.86 422.07 L489.86 422.28 L495.93 422.28 L495.93 422.49 L502 422.49 L502 422.69 L508.08 422.69 L508.08 422.87 L514.15 422.87 L514.15 423.02 L520.22 423.02 L520.22 423.13 L526.29 423.13 L526.29 423.2 L532.36 423.2 L532.36 423.21 L538.44 423.21 L538.44 423.1 L544.51 423.1 L544.51 422.86 L550.58 422.86 L550.58 422.53 L556.65 422.53 L556.65 422.18 L562.72 422.18 L562.72 421.83 L568.8 421.83 L568.8 421.53 L574.87 421.53 L574.87 421.33 L580.94 421.33 L580.94 421.27 L587.01 421.27 L587.01 421.12 L593.08 421.12 L593.08 420.78 L599.16 420.78 L599.16 420.42 L605.23 420.42 L605.23 420.07 L611.3 420.07 L611.3 419.7 L617.37 419.7 L617.37 419.33 L623.44 419.33 L623.44 418.91 L629.52 418.91 L629.52 418.51 L635.59 418.51 L635.59 418.32 L641.66 418.32 L641.66 418.32 L647.73 418.32 L647.73 418.63 L653.8 418.63 L653.8 419.95 L659.88 419.95 L659.88 420.96 L665.95 420.96 L665.95 423.22 L672.02 423.22 L672.02 431.06 L678.09 431.06 L678.09 442.8 L684.16 442.8"/>
<path stroke="#0000ff" d="M386.64 442.17 L386.64 425.86 L392.71 425.86 L392.71 416.69 L398.78 416.69 L398.78 414.75 L404.85 414.75 L404.85 414.75 L410.92 414.75 L410.92 415.29 L417 415.29 L417 416.15 L423.07 416.15 L423.07 417.16 L429.14 417.16 L429.14 418.4 L435.21 418.4 L435.21 419.64 L441.28 419.64 L441.28 420.42 L447.36 420.42 L447.36 421.58 L453.43 421.58 L453.43 422.36 L459.5 422.36 L459.5 423.39 L465.57 423.39 L465.57 424.6 L471.64 424.6 L471.64 425.79 L477.72 425.79 L477.72 426.71 L483.79 426.71 L483.79 427.22 L489.86 427.22 L489.86 427.54 L495.93 427.54 L495.93 427.79 L502 427.79 L502 428.03 L508.08 428.03 L508.08 428.32 L514.15 428.32 L514.15 428.7 L520.22 428.7 L520.22 429.08 L526.29 429.08 L526.29 429.35 L532.36 429.35 L532.36 429.43 L538.44 429.43 L538.44 429.33 L544.51 429.33 L544.51 429.12 L550.58 429.12 L550.58 428.84 L556.65 428.84 L556.65 428.5 L562.72 428.5 L562.72 427.95 L568.8 427.95 L568.8 427.17 L574.87 427.17 L574.87 426.27 L580.94 426.27 L580.94 425.31 L587.01 425.31 L587.01 424.08 L593.08 424.08 L593.08 422.7 L599.16 422.7 L599.16 421.27 L605.23 421.27 L605.23 419.74 L611.3 419.74 L611.3 418.32 L617.37 418.32 L617.37 417.3 L623.44 417.3 L623.44 416.38 L629.52 416.38 L629.52 415.45 L635.59 415.45 L635.59 414.44 L641.66 414.44 L641.66 413.12 L647.73 413.12 L647.73 412.49 L653.8 412.49 L653.8 411.79 L659.88 411.79 L659.88 412.03 L665.95 412.03 L665.95 414.44 L672.02 414.44 L672.02 423.53 L678.09 423.53 L678.09 439.84 L684.16 439.84"/>
<path stroke="#117511" d="M386.64 461.6 L386.64 456.55 L392.71 456.55 L392.71 451.97 L398.78 451.97 L398.78 448.39 L404.85 448.39 L404.85 444.27 L410.92 444.27 L410.92 440.7 L417 440.7 L417 437.05 L423.07 437.05 L423.07 433.39 L429.14 433.39 L429.14 430.13 L435.21 430.13 L435.21 426.32 L441.28 426.32 L441.28 423.6 L447.36 423.6 L447.36 420.65 L453.43 420.65 L453.43 417.7 L459.5 417.7 L459.5 414.9 L465.57 414.9 L465.57 413.19 L471.64 413.19 L471.64 410.63 L477.72 410.63 L477.72 407.83 L483.79 407.83 L483.79 406.44 L489.86 406.44 L489.86 405.45 L495.93 405.45 L495.93 404.56 L502 404.56 L502 403.48 L508.08 403.48 L508.08 402.34 L514.15 402.34 L514.15 401.43 L520.22 401.43 L520.22 400.79 L526.29 400.79 L526.29 400.29 L532.36 400.29 L532.36 400.16 L538.44 400.16 L538.44 400.62 L544.51 400.62 L544.51 401.44 L550.58 401.44 L550.58 402.34 L556.65 402.34 L556.65 403.5 L562.72 403.5 L562.72 404.83 L568.8 404.83 L568.8 406.21 L574.87 406.21 L574.87 407.74 L580.94 407.74 L580.94 409.54 L587.01 409.54 L587.01 411.95 L593.08 411.95 L593.08 414.44 L599.16 414.44 L599.16 416.84 L605.23 416.84 L605.23 418.71 L611.3 418.71 L611.3 421.43 L617.37 421.43 L617.37 424.23 L623.44 424.23 L623.44 427.49 L629.52 427.49 L629.52 430.44 L635.59 430.44 L635.59 434.02 L641.66 434.02 L641.66 437.82 L647.73 437.82 L647.73 441.55 L653.8 441.55 L653.8 445.13 L659.88 445.13 L659.88 448.7 L665.95 448.7 L665.95 452.51 L672.02 452.51 L672.02 456.55 L678.09 456.55 L678.09 459.81 L684.16 459.81"/>
<path stroke="#ff9000" d="M386.64 434.4 L386.64 426.17 L392.71 426.17 L392.71 418.32 L398.78 418.32 L398.78 416.38 L404.85 416.38 L404.85 416.07 L410.92 416.07 L410.92 416.38 L417 416.38 L417 416.92 L423.07 416.92 L423.07 418.09 L429.14 418.09 L429.14 418.86 L435.21 418.86 L435.21 419.64 L441.28 419.64 L441.28 420.81 L447.36 420.81 L447.36 422.05 L453.43 422.05 L453.43 423.05 L459.5 423.05 L459.5 424 L465.57 424 L465.57 424.86 L471.64 424.86 L471.64 425.6 L477.72 425.6 L477.72 426.22 L483.79 426.22 L483.79 426.69 L489.86 426.69 L489.86 427.06 L495.93 427.06 L495.93 427.38 L502 427.38 L502 427.65 L508.08 427.65 L508.08 427.91 L514.15 427.91 L514.15 428.19 L520.22 428.19 L520.22 428.43 L526.29 428.43 L526.29 428.61 L532.36 428.61 L532.36 428.65 L538.44 428.65 L538.44 428.55 L544.51 428.55 L544.51 428.34 L550.58 428.34 L550.58 428.06 L556.65 428.06 L556.65 427.72 L562.72 427.72 L562.72 426.98 L568.8 426.98 L568.8 425.98 L574.87 425.98 L574.87 425.14 L580.94 425.14 L580.94 425.31 L587.01 425.31 L587.01 424.77 L593.08 424.77 L593.08 423.57 L599.16 423.57 L599.16 422.36 L605.23 422.36 L605.23 421.38 L611.3 421.38 L611.3 420.4 L617.37 420.4 L617.37 419.33 L623.44 419.33 L623.44 418.03 L629.52 418.03 L629.52 416.64 L635.59 416.64 L635.59 415.52 L641.66 415.52 L641.66 414.86 L647.73 414.86 L647.73 414.2 L653.8 414.2 L653.8 413.12 L659.88 413.12 L659.88 413.43 L665.95 413.43 L665.95 416.38 L672.02 416.38 L672.02 424.23 L678.09 424.23 L678.09 435.96 L684.16 435.96"/>
<path stroke="#ff0000" d="M386.64 461.6 L386.64 457.17 L392.71 457.17 L392.71 452.59 L398.78 452.59 L398.78 449.01 L404.85 449.01 L404.85 444.89 L410.92 444.89 L410.92 441.32 L417 441.32 L417 437.67 L423.07 437.67 L423.07 434.02 L429.14 434.02 L429.14 430.75 L435.21 430.75 L435.21 426.95 L441.28 426.95 L441.28 424.23 L447.36 424.23 L447.36 421.27 L453.43 421.27 L453.43 418.32 L459.5 418.32 L459.5 415.52 L465.57 415.52 L465.57 412.73 L471.64 412.73 L471.64 410.16 L477.72 410.16 L477.72 407.37 L483.79 407.37 L483.79 405.97 L489.86 405.97 L489.86 404.99 L495.93 404.99 L495.93 404.09 L502 404.09 L502 403.01 L508.08 403.01 L508.08 401.87 L514.15 401.87 L514.15 400.97 L520.22 400.97 L520.22 400.32 L526.29 400.32 L526.29 399.82 L532.36 399.82 L532.36 399.69 L538.44 399.69 L538.44 400.16 L544.51 400.16 L544.51 400.98 L550.58 400.98 L550.58 401.87 L556.65 401.87 L556.65 403.03 L562.72 403.03 L562.72 404.36 L568.8 404.36 L568.8 405.75 L574.87 405.75 L574.87 407.28 L580.94 407.28 L580.94 409.07 L587.01 409.07 L587.01 411.48 L593.08 411.48 L593.08 413.97 L599.16 413.97 L599.16 416.38 L605.23 416.38 L605.23 419.33 L611.3 419.33 L611.3 422.05 L617.37 422.05 L617.37 424.85 L623.44 424.85 L623.44 428.11 L629.52 428.11 L629.52 431.06 L635.59 431.06 L635.59 434.64 L641.66 434.64 L641.66 438.45 L647.73 438.45 L647.73 442.17 L653.8 442.17 L653.8 445.75 L659.88 445.75 L659.88 449.32 L665.95 449.32 L665.95 453.13 L672.02 453.13 L672.02 457.17 L678.09 457.17 L678.09 460.43 L684.16 460.43"/>
</g>
<g><rect x="386.8" y="18.6" width="297.5" height="199.6" fill="none" stroke="#111" stroke-width="0.85"/><path d="M421.55 218 V214.5" stroke="#262626" stroke-width="0.9"/><path d="M459.5 218 V214.5" stroke="#262626" stroke-width="0.9"/><path d="M497.45 218 V214.5" stroke="#262626" stroke-width="0.9"/><path d="M535.4 218 V214.5" stroke="#262626" stroke-width="0.9"/><path d="M573.35 218 V214.5" stroke="#262626" stroke-width="0.9"/><path d="M611.3 218 V214.5" stroke="#262626" stroke-width="0.9"/><path d="M649.25 218 V214.5" stroke="#262626" stroke-width="0.9"/><rect x="386.8" y="221.9" width="297.5" height="77.6" fill="none" stroke="#111" stroke-width="0.85"/><path d="M421.55 299.5 V296" stroke="#262626" stroke-width="0.9"/><path d="M459.5 299.5 V296" stroke="#262626" stroke-width="0.9"/><path d="M497.45 299.5 V296" stroke="#262626" stroke-width="0.9"/><path d="M535.4 299.5 V296" stroke="#262626" stroke-width="0.9"/><path d="M573.35 299.5 V296" stroke="#262626" stroke-width="0.9"/><path d="M611.3 299.5 V296" stroke="#262626" stroke-width="0.9"/><path d="M649.25 299.5 V296" stroke="#262626" stroke-width="0.9"/><rect x="386.8" y="303.1" width="297.5" height="77.4" fill="none" stroke="#111" stroke-width="0.85"/><path d="M421.55 380.5 V377" stroke="#262626" stroke-width="0.9"/><path d="M459.5 380.5 V377" stroke="#262626" stroke-width="0.9"/><path d="M497.45 380.5 V377" stroke="#262626" stroke-width="0.9"/><path d="M535.4 380.5 V377" stroke="#262626" stroke-width="0.9"/><path d="M573.35 380.5 V377" stroke="#262626" stroke-width="0.9"/><path d="M611.3 380.5 V377" stroke="#262626" stroke-width="0.9"/><path d="M649.25 380.5 V377" stroke="#262626" stroke-width="0.9"/><rect x="386.8" y="384.5" width="297.5" height="77.2" fill="none" stroke="#111" stroke-width="0.85"/><path d="M421.55 461.6 V458.1" stroke="#262626" stroke-width="0.9"/><path d="M459.5 461.6 V458.1" stroke="#262626" stroke-width="0.9"/><path d="M497.45 461.6 V458.1" stroke="#262626" stroke-width="0.9"/><path d="M535.4 461.6 V458.1" stroke="#262626" stroke-width="0.9"/><path d="M573.35 461.6 V458.1" stroke="#262626" stroke-width="0.9"/><path d="M611.3 461.6 V458.1" stroke="#262626" stroke-width="0.9"/><path d="M649.25 461.6 V458.1" stroke="#262626" stroke-width="0.9"/></g>
<path d="M386.64 209.7 H390.14 M684.16 209.7 H680.66" stroke="#262626" stroke-width="0.9"/>
<text x="377.85" y="213.45" font-size="9.8" textLength="5.33" lengthAdjust="spacingAndGlyphs">0</text>
<path d="M386.64 146.05 H390.14 M684.16 146.05 H680.66" stroke="#262626" stroke-width="0.9"/>
<text x="378.1" y="149.8" font-size="9.8" textLength="5.12" lengthAdjust="spacingAndGlyphs">5</text>
<path d="M386.64 82.4 H390.14 M684.16 82.4 H680.66" stroke="#262626" stroke-width="0.9"/>
<text x="371.96" y="86.15" font-size="9.8" textLength="11.26" lengthAdjust="spacingAndGlyphs">10</text>
<path d="M386.64 18.75 H390.14 M684.16 18.75 H680.66" stroke="#262626" stroke-width="0.9"/>
<text x="372.15" y="22.5" font-size="9.8" textLength="11.11" lengthAdjust="spacingAndGlyphs">15</text>
<path d="M386.64 288.39 H390.14 M684.16 288.39 H680.66" stroke="#262626" stroke-width="0.9"/>
<text x="378.09" y="292.14" font-size="9.8" textLength="5.18" lengthAdjust="spacingAndGlyphs">1</text>
<path d="M386.64 266.16 H390.14 M684.16 266.16 H680.66" stroke="#262626" stroke-width="0.9"/>
<text x="378.04" y="269.91" font-size="9.8" textLength="5.23" lengthAdjust="spacingAndGlyphs">2</text>
<path d="M386.64 243.93 H390.14 M684.16 243.93 H680.66" stroke="#262626" stroke-width="0.9"/>
<text x="378.05" y="247.68" font-size="9.8" textLength="5.17" lengthAdjust="spacingAndGlyphs">3</text>
<path d="M386.64 221.7 H390.14 M684.16 221.7 H680.66" stroke="#262626" stroke-width="0.9"/>
<text x="377.67" y="225.45" font-size="9.8" textLength="5.42" lengthAdjust="spacingAndGlyphs">4</text>
<path d="M386.64 315.8 H390.14 M684.16 315.8 H680.66" stroke="#262626" stroke-width="0.9"/>
<text x="377.85" y="319.55" font-size="9.8" textLength="5.33" lengthAdjust="spacingAndGlyphs">0</text>
<path d="M386.64 341.7 H390.14 M684.16 341.7 H680.66" stroke="#262626" stroke-width="0.9"/>
<text x="370.6" y="345.45" font-size="9.8" textLength="12.74" lengthAdjust="spacingAndGlyphs">−2</text>
<path d="M386.64 367.6 H390.14 M684.16 367.6 H680.66" stroke="#262626" stroke-width="0.9"/>
<text x="370.18" y="371.35" font-size="9.8" textLength="12.94" lengthAdjust="spacingAndGlyphs">−4</text>
<path d="M386.64 461.6 H390.14 M684.16 461.6 H680.66" stroke="#262626" stroke-width="0.9"/>
<text x="363.2" y="465.35" font-size="9.8" textLength="20.01" lengthAdjust="spacingAndGlyphs">0.00</text>
<path d="M386.64 442.17 H390.14 M684.16 442.17 H680.66" stroke="#262626" stroke-width="0.9"/>
<text x="363.39" y="445.92" font-size="9.8" textLength="19.87" lengthAdjust="spacingAndGlyphs">0.25</text>
<path d="M386.64 422.75 H390.14 M684.16 422.75 H680.66" stroke="#262626" stroke-width="0.9"/>
<text x="363.2" y="426.5" font-size="9.8" textLength="20.01" lengthAdjust="spacingAndGlyphs">0.50</text>
<path d="M386.64 403.32 H390.14 M684.16 403.32 H680.66" stroke="#262626" stroke-width="0.9"/>
<text x="363.39" y="407.07" font-size="9.8" textLength="19.87" lengthAdjust="spacingAndGlyphs">0.75</text>
<path d="M386.64 383.9 H390.14 M684.16 383.9 H680.66" stroke="#262626" stroke-width="0.9"/>
<text x="363.16" y="387.65" font-size="9.8" textLength="20.05" lengthAdjust="spacingAndGlyphs">1.00</text>
<text x="407.64" y="472" font-size="9.8" textLength="27.37" lengthAdjust="spacingAndGlyphs">−0.75</text>
<text x="445.49" y="472" font-size="9.8" textLength="27.51" lengthAdjust="spacingAndGlyphs">−0.50</text>
<text x="483.54" y="472" font-size="9.8" textLength="27.37" lengthAdjust="spacingAndGlyphs">−0.25</text>
<text x="525.4" y="472" font-size="9.8" textLength="20.01" lengthAdjust="spacingAndGlyphs">0.00</text>
<text x="563.45" y="472" font-size="9.8" textLength="19.87" lengthAdjust="spacingAndGlyphs">0.25</text>
<text x="601.3" y="472" font-size="9.8" textLength="20.01" lengthAdjust="spacingAndGlyphs">0.50</text>
<text x="639.35" y="472" font-size="9.8" textLength="19.87" lengthAdjust="spacingAndGlyphs">0.75</text>
<text x="396.5" y="12.8" font-size="11.2" textLength="12.99" lengthAdjust="spacingAndGlyphs" font-style="italic">pp</text>
<path d="M409.8 9.8L416.9 9.8" stroke="#000" stroke-width="1.2" fill="none"/>
<path d="M414.5 7.8L418.9 9.8L414.5 11.8Z" fill="#000"/>
<text x="418.77" y="12.8" font-size="11.2" textLength="6.13" lengthAdjust="spacingAndGlyphs" font-style="italic">e</text>
<path d="M425.3 6.5L430.1 6.5" stroke="#000" stroke-width="0.9" fill="none"/>
<text x="432.59" y="12.8" font-size="11.2" textLength="5.67" lengthAdjust="spacingAndGlyphs" font-style="italic">ν</text>
<path d="M434.8 5.3L437.3 5.3" stroke="#000" stroke-width="0.8" fill="none"/>
<text x="438.45" y="15" font-size="8.0" textLength="4.65" lengthAdjust="spacingAndGlyphs" font-style="italic">e</text>
<text x="443.2" y="12.8" font-size="11.2" textLength="6.75" lengthAdjust="spacingAndGlyphs" font-style="italic">μ</text>
<text x="450.51" y="9.6" font-size="8.2" textLength="5.01" lengthAdjust="spacingAndGlyphs">+</text>
<text x="456.8" y="12.8" font-size="11.2" textLength="6.46" lengthAdjust="spacingAndGlyphs" font-style="italic">μ</text>
<path d="M464.2 6.5L468.7 6.5" stroke="#000" stroke-width="0.9" fill="none"/>
<text x="470.7" y="12.8" font-size="11.2" textLength="73.9" lengthAdjust="spacingAndGlyphs">@NLOQCDEW</text>
<path d="M549.8 3.8L549.8 14.8" stroke="#000" stroke-width="1.0" fill="none"/>
<path d="M555.8 8.8 L557.1 8.2 L559.3 13.1 L562.7 3.1 H569.9" fill="none" stroke="#000" stroke-width="0.9"/>
<text x="563.8" y="12.8" font-size="11.2" textLength="5.94" lengthAdjust="spacingAndGlyphs" font-style="italic">s</text>
<text x="573.39" y="12.8" font-size="11.2" textLength="7.87" lengthAdjust="spacingAndGlyphs">=</text>
<text x="583.31" y="12.8" font-size="11.2" textLength="33.8" lengthAdjust="spacingAndGlyphs">13TeV</text>
<path d="M622.8 3.8L622.8 14.8" stroke="#000" stroke-width="1.0" fill="none"/>
<text x="628" y="12.8" font-size="11.2" textLength="47.08" lengthAdjust="spacingAndGlyphs">ATLASfid</text>
<text x="461.65" y="38.6" font-size="12.8" textLength="7.7" lengthAdjust="spacingAndGlyphs">d</text>
<text x="468.55" y="38.6" font-size="12.8" textLength="6.98" lengthAdjust="spacingAndGlyphs" font-style="italic">σ</text>
<text x="476.1" y="38.6" font-size="12.8" textLength="37.74" lengthAdjust="spacingAndGlyphs">/dcos(</text>
<text x="514.18" y="38.6" font-size="12.8" textLength="7.42" lengthAdjust="spacingAndGlyphs" font-style="italic">θ</text>
<text x="522" y="41.5" font-size="9.0" textLength="4.5" lengthAdjust="spacingAndGlyphs" font-style="italic">μ</text>
<path d="M528.1 36.2L532.5 36.2" stroke="#000" stroke-width="0.9" fill="none"/>
<text x="521.55" y="33.4" font-size="9.0" textLength="17.31" lengthAdjust="spacingAndGlyphs" font-style="italic">WZ</text>
<text x="539.74" y="38.6" font-size="12.8" textLength="3.82" lengthAdjust="spacingAndGlyphs">)</text>
<text x="543.49" y="38.6" font-size="12.8" textLength="3.61" lengthAdjust="spacingAndGlyphs">[</text>
<text x="547.46" y="38.6" font-size="12.8" textLength="11.9" lengthAdjust="spacingAndGlyphs">fb</text>
<text x="561.74" y="38.6" font-size="12.8" textLength="3.52" lengthAdjust="spacingAndGlyphs">]</text>
<text x="515.82" y="484.6" font-size="9.3" textLength="17.82" lengthAdjust="spacingAndGlyphs">cos(</text>
<text x="533.81" y="484.6" font-size="9.3" textLength="4.65" lengthAdjust="spacingAndGlyphs" font-style="italic">θ</text>
<text x="540" y="488" font-size="6.6" textLength="3.72" lengthAdjust="spacingAndGlyphs" font-style="italic">μ</text>
<path d="M544.5 483L546.7 483" stroke="#000" stroke-width="0.7" fill="none"/>
<text x="539.35" y="482" font-size="6.6" textLength="11.92" lengthAdjust="spacingAndGlyphs" font-style="italic">WZ</text>
<text x="551.86" y="484.6" font-size="9.3" textLength="2.71" lengthAdjust="spacingAndGlyphs">)</text>
<text transform="translate(373.3 286.6) rotate(-90)" x="-0.73" y="0" font-size="9.6" textLength="54.1" lengthAdjust="spacingAndGlyphs">NLOQCD/LO</text>
<text transform="translate(359.3 451.6) rotate(-90)" x="-0.65" y="0" font-size="9.8" textLength="60.28" lengthAdjust="spacingAndGlyphs">norm. shapes</text>
<text transform="translate(366.3 357.6) rotate(-90)" x="-0.3" y="0" font-size="9.7" textLength="5.61" lengthAdjust="spacingAndGlyphs" font-style="italic">δ</text>
<path d="M356.9 357.8V352" stroke="#000" stroke-width="0.8"/>
<text transform="translate(366.9 352) rotate(-90)" x="-0.18" y="0" font-size="6.9" textLength="9.9" lengthAdjust="spacingAndGlyphs" font-style="italic">EW</text>
<text transform="translate(365.3 341) rotate(-90)" x="-0.77" y="0" font-size="9.2" textLength="15.83" lengthAdjust="spacingAndGlyphs">[%]</text>
<path d="M446.9 70.9H469.4" stroke="#000000" stroke-width="1.6"/>
<path d="M446.9 86.3H469.4" stroke="#ff00ff" stroke-width="1.6"/>
<path d="M446.9 102H469.4" stroke="#0000ff" stroke-width="1.6"/>
<path d="M550 70.9H572.9" stroke="#117511" stroke-width="1.6"/>
<path d="M550 86.3H572.9" stroke="#ff9000" stroke-width="1.6"/>
<path d="M550 102H572.9" stroke="#ff0000" stroke-width="1.6"/>
<text x="477.17" y="74.8" font-size="11.2" textLength="62.87" lengthAdjust="spacingAndGlyphs">unpolarized</text>
<text x="477.15" y="90.2" font-size="11.2" textLength="57.33" lengthAdjust="spacingAndGlyphs">polar. sum</text>
<text x="477.38" y="105.1" font-size="10.2" textLength="10.24" lengthAdjust="spacingAndGlyphs" font-style="italic">W</text>
<text x="487.17" y="107.4" font-size="8.3" textLength="4.95" lengthAdjust="spacingAndGlyphs" font-style="italic">T</text>
<text x="492.6" y="105.1" font-size="10.2" textLength="6.76" lengthAdjust="spacingAndGlyphs" font-style="italic">Z</text>
<text x="499.08" y="107.4" font-size="8.3" textLength="5.58" lengthAdjust="spacingAndGlyphs" font-style="italic">T</text>
<text x="580.78" y="74" font-size="10.2" textLength="10.24" lengthAdjust="spacingAndGlyphs" font-style="italic">W</text>
<text x="590.57" y="76.3" font-size="8.3" textLength="4.95" lengthAdjust="spacingAndGlyphs" font-style="italic">T</text>
<text x="596" y="74" font-size="10.2" textLength="6.76" lengthAdjust="spacingAndGlyphs" font-style="italic">Z</text>
<text x="602.95" y="76.3" font-size="8.3" textLength="6.41" lengthAdjust="spacingAndGlyphs" font-style="italic">L</text>
<text x="580.78" y="89.4" font-size="10.2" textLength="10.24" lengthAdjust="spacingAndGlyphs" font-style="italic">W</text>
<text x="590.99" y="91.7" font-size="8.3" textLength="5.68" lengthAdjust="spacingAndGlyphs" font-style="italic">L</text>
<text x="596" y="89.4" font-size="10.2" textLength="6.76" lengthAdjust="spacingAndGlyphs" font-style="italic">Z</text>
<text x="602.48" y="91.7" font-size="8.3" textLength="5.58" lengthAdjust="spacingAndGlyphs" font-style="italic">T</text>
<text x="580.78" y="105.1" font-size="10.2" textLength="10.24" lengthAdjust="spacingAndGlyphs" font-style="italic">W</text>
<text x="590.99" y="107.4" font-size="8.3" textLength="5.68" lengthAdjust="spacingAndGlyphs" font-style="italic">L</text>
<text x="596" y="105.1" font-size="10.2" textLength="6.76" lengthAdjust="spacingAndGlyphs" font-style="italic">Z</text>
<text x="602.95" y="107.4" font-size="8.3" textLength="6.41" lengthAdjust="spacingAndGlyphs" font-style="italic">L</text>
</svg>
</body></html>
